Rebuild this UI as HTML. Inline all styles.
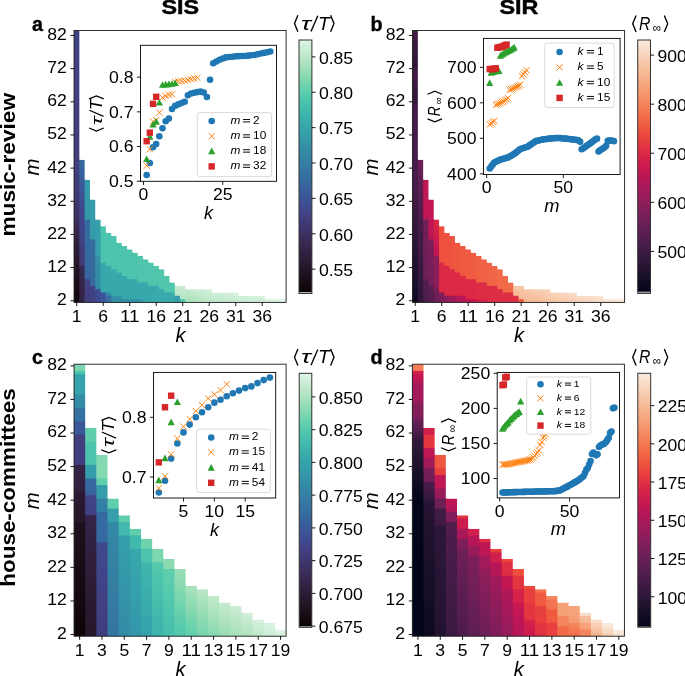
<!DOCTYPE html><html><head><meta charset="utf-8"><style>html,body{margin:0;padding:0;background:#fff;overflow:hidden}svg{display:block;will-change:transform}text{font-family:"Liberation Sans",sans-serif}</style></head><body>
<svg width="685" height="676" viewBox="0 0 685 676">
<rect width="685" height="676" fill="#fff"/>
<text x="180.30" y="14.30" font-size="20.6" text-anchor="middle" font-weight="bold" textLength="37.60" lengthAdjust="spacingAndGlyphs" stroke="#000" stroke-width="0.45">SIS</text>
<text x="518.90" y="14.30" font-size="20.6" text-anchor="middle" font-weight="bold" textLength="39.00" lengthAdjust="spacingAndGlyphs" stroke="#000" stroke-width="0.45">SIR</text>
<text x="14.70" y="164.75" font-size="19.6" text-anchor="middle" font-weight="bold" textLength="143.60" lengthAdjust="spacingAndGlyphs" transform="rotate(-90 14.70 164.75)">music-review</text>
<text x="14.70" y="487.55" font-size="19.6" text-anchor="middle" font-weight="bold" textLength="198.40" lengthAdjust="spacingAndGlyphs" transform="rotate(-90 14.70 487.55)">house-committees</text>
<rect x="74.05" y="30.50" width="6.30" height="17.58" fill="#414285"/>
<rect x="74.05" y="47.08" width="6.30" height="27.53" fill="#414184"/>
<rect x="74.05" y="73.61" width="6.30" height="27.53" fill="#414082"/>
<rect x="74.05" y="100.13" width="6.30" height="30.84" fill="#413f80"/>
<rect x="74.05" y="129.98" width="6.30" height="27.53" fill="#413e7f"/>
<rect x="74.05" y="156.50" width="6.30" height="20.90" fill="#413e7d"/>
<rect x="74.05" y="176.40" width="6.30" height="4.32" fill="#413d7b"/>
<rect x="74.05" y="179.71" width="6.30" height="7.63" fill="#403c79"/>
<rect x="74.05" y="186.35" width="6.30" height="4.32" fill="#403b78"/>
<rect x="74.05" y="189.66" width="6.30" height="7.63" fill="#403a76"/>
<rect x="74.05" y="196.29" width="6.30" height="4.32" fill="#403974"/>
<rect x="74.05" y="199.61" width="6.30" height="4.32" fill="#3f366f"/>
<rect x="74.05" y="202.92" width="6.30" height="4.32" fill="#3f366d"/>
<rect x="74.05" y="206.24" width="6.30" height="4.32" fill="#3e3469"/>
<rect x="74.05" y="209.56" width="6.30" height="4.32" fill="#3e3367"/>
<rect x="74.05" y="212.87" width="6.30" height="4.32" fill="#3d3164"/>
<rect x="74.05" y="216.19" width="6.30" height="4.32" fill="#3c3162"/>
<rect x="74.05" y="219.50" width="6.30" height="4.32" fill="#3a2c59"/>
<rect x="74.05" y="222.82" width="6.30" height="4.32" fill="#392b56"/>
<rect x="74.05" y="226.14" width="6.30" height="4.32" fill="#372851"/>
<rect x="74.05" y="229.45" width="6.30" height="4.32" fill="#36274d"/>
<rect x="74.05" y="232.77" width="6.30" height="4.32" fill="#35254a"/>
<rect x="74.05" y="236.08" width="6.30" height="4.32" fill="#342447"/>
<rect x="74.05" y="239.40" width="6.30" height="4.32" fill="#30203e"/>
<rect x="74.05" y="242.71" width="6.30" height="4.32" fill="#2e1e3b"/>
<rect x="74.05" y="246.03" width="6.30" height="4.32" fill="#2d1d38"/>
<rect x="74.05" y="249.35" width="6.30" height="4.32" fill="#2c1c36"/>
<rect x="74.05" y="252.66" width="6.30" height="4.32" fill="#2a1b33"/>
<rect x="74.05" y="255.98" width="6.30" height="4.32" fill="#28192e"/>
<rect x="74.05" y="259.29" width="6.30" height="4.32" fill="#26172b"/>
<rect x="74.05" y="262.61" width="6.30" height="4.32" fill="#251729"/>
<rect x="74.05" y="265.93" width="6.30" height="4.32" fill="#231526"/>
<rect x="74.05" y="269.24" width="6.30" height="4.32" fill="#211423"/>
<rect x="74.05" y="272.56" width="6.30" height="4.32" fill="#201322"/>
<rect x="74.05" y="275.87" width="6.30" height="4.32" fill="#1e111f"/>
<rect x="74.05" y="279.19" width="6.30" height="4.32" fill="#1b0f1a"/>
<rect x="74.05" y="282.50" width="6.30" height="4.32" fill="#1a0e19"/>
<rect x="74.05" y="285.82" width="6.30" height="4.32" fill="#180d16"/>
<rect x="74.05" y="289.14" width="6.30" height="4.32" fill="#160b13"/>
<rect x="74.05" y="292.45" width="6.30" height="4.32" fill="#140910"/>
<rect x="74.05" y="295.77" width="6.30" height="4.32" fill="#13090f"/>
<rect x="74.05" y="299.08" width="6.30" height="3.32" fill="#11070c"/>
<rect x="79.35" y="159.82" width="6.30" height="4.32" fill="#366ca0"/>
<rect x="79.35" y="163.13" width="6.30" height="4.32" fill="#366a9f"/>
<rect x="79.35" y="166.45" width="6.30" height="4.32" fill="#37669e"/>
<rect x="79.35" y="169.77" width="6.30" height="4.32" fill="#37649e"/>
<rect x="79.35" y="173.08" width="6.30" height="4.32" fill="#38629d"/>
<rect x="79.35" y="176.40" width="6.30" height="4.32" fill="#385f9c"/>
<rect x="79.35" y="179.71" width="6.30" height="4.32" fill="#395d9c"/>
<rect x="79.35" y="183.03" width="6.30" height="4.32" fill="#3a5b9b"/>
<rect x="79.35" y="186.35" width="6.30" height="4.32" fill="#3b5799"/>
<rect x="79.35" y="189.66" width="6.30" height="4.32" fill="#3c5598"/>
<rect x="79.35" y="192.98" width="6.30" height="4.32" fill="#3d5296"/>
<rect x="79.35" y="196.29" width="6.30" height="4.32" fill="#3e5095"/>
<rect x="79.35" y="199.61" width="6.30" height="4.32" fill="#3e4d93"/>
<rect x="79.35" y="202.92" width="6.30" height="4.32" fill="#3f4b90"/>
<rect x="79.35" y="206.24" width="6.30" height="7.63" fill="#40488d"/>
<rect x="79.35" y="212.87" width="6.30" height="7.63" fill="#40478b"/>
<rect x="79.35" y="219.50" width="6.30" height="7.63" fill="#40468a"/>
<rect x="79.35" y="226.14" width="6.30" height="7.63" fill="#414488"/>
<rect x="79.35" y="232.77" width="6.30" height="7.63" fill="#414387"/>
<rect x="79.35" y="239.40" width="6.30" height="4.32" fill="#414285"/>
<rect x="79.35" y="242.71" width="6.30" height="4.32" fill="#413e7d"/>
<rect x="79.35" y="246.03" width="6.30" height="4.32" fill="#413d7b"/>
<rect x="79.35" y="249.35" width="6.30" height="4.32" fill="#403c79"/>
<rect x="79.35" y="252.66" width="6.30" height="7.63" fill="#403b78"/>
<rect x="79.35" y="259.29" width="6.30" height="4.32" fill="#403a76"/>
<rect x="79.35" y="262.61" width="6.30" height="4.32" fill="#403974"/>
<rect x="79.35" y="265.93" width="6.30" height="7.63" fill="#37284f"/>
<rect x="79.35" y="272.56" width="6.30" height="4.32" fill="#36274d"/>
<rect x="79.35" y="275.87" width="6.30" height="4.32" fill="#35264c"/>
<rect x="79.35" y="279.19" width="6.30" height="7.63" fill="#35254a"/>
<rect x="79.35" y="285.82" width="6.30" height="4.32" fill="#342548"/>
<rect x="79.35" y="289.14" width="6.30" height="4.32" fill="#342447"/>
<rect x="79.35" y="292.45" width="6.30" height="7.63" fill="#332345"/>
<rect x="79.35" y="299.08" width="6.30" height="3.32" fill="#322243"/>
<rect x="84.65" y="179.71" width="6.30" height="40.79" fill="#349aaa"/>
<rect x="84.65" y="219.50" width="6.30" height="4.32" fill="#366ca0"/>
<rect x="84.65" y="222.82" width="6.30" height="14.26" fill="#366b9f"/>
<rect x="84.65" y="236.08" width="6.30" height="10.95" fill="#366a9f"/>
<rect x="84.65" y="246.03" width="6.30" height="10.95" fill="#36699f"/>
<rect x="84.65" y="255.98" width="6.30" height="14.26" fill="#37689f"/>
<rect x="84.65" y="269.24" width="6.30" height="10.95" fill="#37669e"/>
<rect x="84.65" y="279.19" width="6.30" height="4.32" fill="#414285"/>
<rect x="84.65" y="282.50" width="6.30" height="4.32" fill="#414184"/>
<rect x="84.65" y="285.82" width="6.30" height="4.32" fill="#414082"/>
<rect x="84.65" y="289.14" width="6.30" height="7.63" fill="#413f80"/>
<rect x="84.65" y="295.77" width="6.30" height="4.32" fill="#413e7f"/>
<rect x="84.65" y="299.08" width="6.30" height="3.32" fill="#413e7d"/>
<rect x="89.95" y="199.61" width="6.30" height="40.79" fill="#359caa"/>
<rect x="89.95" y="239.40" width="6.30" height="7.63" fill="#366ca0"/>
<rect x="89.95" y="246.03" width="6.30" height="17.58" fill="#366b9f"/>
<rect x="89.95" y="262.61" width="6.30" height="17.58" fill="#366a9f"/>
<rect x="89.95" y="279.19" width="6.30" height="7.63" fill="#36699f"/>
<rect x="89.95" y="285.82" width="6.30" height="4.32" fill="#414285"/>
<rect x="89.95" y="289.14" width="6.30" height="7.63" fill="#414184"/>
<rect x="89.95" y="295.77" width="6.30" height="4.32" fill="#414082"/>
<rect x="89.95" y="299.08" width="6.30" height="3.32" fill="#413f80"/>
<rect x="95.25" y="219.50" width="6.30" height="37.47" fill="#35a0ab"/>
<rect x="95.25" y="255.98" width="6.30" height="10.95" fill="#348ea7"/>
<rect x="95.25" y="265.93" width="6.30" height="14.26" fill="#348da7"/>
<rect x="95.25" y="279.19" width="6.30" height="10.95" fill="#348ca7"/>
<rect x="95.25" y="289.14" width="6.30" height="13.26" fill="#3f4b90"/>
<rect x="100.56" y="226.14" width="6.30" height="37.47" fill="#4dc4ad"/>
<rect x="100.56" y="262.61" width="6.30" height="30.84" fill="#37a8ac"/>
<rect x="100.56" y="292.45" width="6.30" height="9.95" fill="#3b5799"/>
<rect x="105.86" y="232.77" width="6.30" height="34.16" fill="#4dc4ad"/>
<rect x="105.86" y="265.93" width="6.30" height="27.53" fill="#37a8ac"/>
<rect x="105.86" y="292.45" width="6.30" height="4.32" fill="#3488a6"/>
<rect x="105.86" y="295.77" width="6.30" height="6.63" fill="#366fa0"/>
<rect x="111.16" y="236.08" width="6.30" height="34.16" fill="#4dc4ad"/>
<rect x="111.16" y="269.24" width="6.30" height="27.53" fill="#37a8ac"/>
<rect x="111.16" y="295.77" width="6.30" height="6.63" fill="#348ca7"/>
<rect x="116.46" y="242.71" width="6.30" height="30.84" fill="#4dc4ad"/>
<rect x="116.46" y="272.56" width="6.30" height="24.21" fill="#37a8ac"/>
<rect x="116.46" y="295.77" width="6.30" height="6.63" fill="#348ea7"/>
<rect x="121.76" y="246.03" width="6.30" height="30.84" fill="#4dc4ad"/>
<rect x="121.76" y="275.87" width="6.30" height="24.21" fill="#37a8ac"/>
<rect x="121.76" y="299.08" width="6.30" height="3.32" fill="#348ba6"/>
<rect x="127.06" y="249.35" width="6.30" height="30.84" fill="#4dc4ad"/>
<rect x="127.06" y="279.19" width="6.30" height="20.90" fill="#37a8ac"/>
<rect x="127.06" y="299.08" width="6.30" height="3.32" fill="#348da7"/>
<rect x="132.36" y="252.66" width="6.30" height="27.53" fill="#4dc4ad"/>
<rect x="132.36" y="279.19" width="6.30" height="20.90" fill="#37a8ac"/>
<rect x="132.36" y="299.08" width="6.30" height="3.32" fill="#3491a8"/>
<rect x="137.67" y="255.98" width="6.30" height="27.53" fill="#4fc5ad"/>
<rect x="137.67" y="282.50" width="6.30" height="17.58" fill="#37a8ac"/>
<rect x="137.67" y="299.08" width="6.30" height="3.32" fill="#3493a8"/>
<rect x="142.97" y="259.29" width="6.30" height="24.21" fill="#4fc5ad"/>
<rect x="142.97" y="282.50" width="6.30" height="19.90" fill="#37a8ac"/>
<rect x="148.27" y="262.61" width="6.30" height="24.21" fill="#4fc5ad"/>
<rect x="148.27" y="285.82" width="6.30" height="16.58" fill="#38aaac"/>
<rect x="153.57" y="265.93" width="6.30" height="20.90" fill="#50c6ad"/>
<rect x="153.57" y="285.82" width="6.30" height="16.58" fill="#38aaac"/>
<rect x="158.87" y="269.24" width="6.30" height="20.90" fill="#50c6ad"/>
<rect x="158.87" y="289.14" width="6.30" height="13.26" fill="#38aaac"/>
<rect x="164.17" y="275.87" width="6.30" height="17.58" fill="#50c6ad"/>
<rect x="164.17" y="292.45" width="6.30" height="9.95" fill="#38aaac"/>
<rect x="169.47" y="282.50" width="6.30" height="10.95" fill="#50c6ad"/>
<rect x="169.47" y="292.45" width="6.30" height="9.95" fill="#38aaac"/>
<rect x="174.77" y="285.82" width="6.30" height="4.32" fill="#c4eacf"/>
<rect x="174.77" y="289.14" width="6.30" height="4.32" fill="#c0e9cc"/>
<rect x="174.77" y="292.45" width="6.30" height="4.32" fill="#b9e6c7"/>
<rect x="174.77" y="295.77" width="6.30" height="6.63" fill="#35a0ab"/>
<rect x="180.07" y="285.82" width="6.30" height="4.32" fill="#c4eacf"/>
<rect x="180.07" y="289.14" width="6.30" height="4.32" fill="#c2e9cd"/>
<rect x="180.07" y="292.45" width="6.30" height="4.32" fill="#bee8ca"/>
<rect x="180.07" y="295.77" width="6.30" height="4.32" fill="#b9e6c7"/>
<rect x="180.07" y="299.08" width="6.30" height="3.32" fill="#50c6ad"/>
<rect x="185.38" y="289.14" width="6.30" height="4.32" fill="#c0e9cc"/>
<rect x="185.38" y="292.45" width="6.30" height="4.32" fill="#b9e6c7"/>
<rect x="185.38" y="295.77" width="6.30" height="4.32" fill="#b2e4c2"/>
<rect x="185.38" y="299.08" width="6.30" height="3.32" fill="#abe2be"/>
<rect x="190.68" y="289.14" width="6.30" height="4.32" fill="#c4eacf"/>
<rect x="190.68" y="292.45" width="6.30" height="4.32" fill="#bee8ca"/>
<rect x="190.68" y="295.77" width="6.30" height="4.32" fill="#b7e6c5"/>
<rect x="190.68" y="299.08" width="6.30" height="3.32" fill="#b0e4c1"/>
<rect x="195.98" y="289.14" width="6.30" height="4.32" fill="#caedd4"/>
<rect x="195.98" y="292.45" width="6.30" height="4.32" fill="#c2e9cd"/>
<rect x="195.98" y="295.77" width="6.30" height="4.32" fill="#bbe7c8"/>
<rect x="195.98" y="299.08" width="6.30" height="3.32" fill="#b5e5c4"/>
<rect x="201.28" y="289.14" width="6.30" height="4.32" fill="#ceeed7"/>
<rect x="201.28" y="292.45" width="6.30" height="4.32" fill="#c8ecd2"/>
<rect x="201.28" y="295.77" width="6.30" height="4.32" fill="#c2e9cd"/>
<rect x="201.28" y="299.08" width="6.30" height="3.32" fill="#bbe7c8"/>
<rect x="206.58" y="289.14" width="6.30" height="4.32" fill="#d0efd9"/>
<rect x="206.58" y="292.45" width="6.30" height="4.32" fill="#caedd4"/>
<rect x="206.58" y="295.77" width="6.30" height="4.32" fill="#c4eacf"/>
<rect x="206.58" y="299.08" width="6.30" height="3.32" fill="#bee8ca"/>
<rect x="211.88" y="292.45" width="6.30" height="4.32" fill="#ccedd6"/>
<rect x="211.88" y="295.77" width="6.30" height="4.32" fill="#c6ebd1"/>
<rect x="211.88" y="299.08" width="6.30" height="3.32" fill="#c0e9cc"/>
<rect x="217.18" y="292.45" width="6.30" height="4.32" fill="#ceeed7"/>
<rect x="217.18" y="295.77" width="6.30" height="4.32" fill="#c8ecd2"/>
<rect x="217.18" y="299.08" width="6.30" height="3.32" fill="#c2e9cd"/>
<rect x="222.49" y="292.45" width="6.30" height="4.32" fill="#d0efd9"/>
<rect x="222.49" y="295.77" width="6.30" height="4.32" fill="#caedd4"/>
<rect x="222.49" y="299.08" width="6.30" height="3.32" fill="#c4eacf"/>
<rect x="227.79" y="292.45" width="6.30" height="4.32" fill="#d2f0db"/>
<rect x="227.79" y="295.77" width="6.30" height="4.32" fill="#ccedd6"/>
<rect x="227.79" y="299.08" width="6.30" height="3.32" fill="#c6ebd1"/>
<rect x="233.09" y="292.45" width="6.30" height="4.32" fill="#d4f1dc"/>
<rect x="233.09" y="295.77" width="6.30" height="4.32" fill="#ceeed7"/>
<rect x="233.09" y="299.08" width="6.30" height="3.32" fill="#c8ecd2"/>
<rect x="238.39" y="295.77" width="6.30" height="4.32" fill="#d0efd9"/>
<rect x="238.39" y="299.08" width="6.30" height="3.32" fill="#caedd4"/>
<rect x="243.69" y="295.77" width="6.30" height="4.32" fill="#d2f0db"/>
<rect x="243.69" y="299.08" width="6.30" height="3.32" fill="#ccedd6"/>
<rect x="248.99" y="295.77" width="6.30" height="4.32" fill="#d4f1dc"/>
<rect x="248.99" y="299.08" width="6.30" height="3.32" fill="#ceeed7"/>
<rect x="254.29" y="295.77" width="6.30" height="4.32" fill="#d6f1de"/>
<rect x="254.29" y="299.08" width="6.30" height="3.32" fill="#ceeed7"/>
<rect x="259.59" y="295.77" width="6.30" height="4.32" fill="#d6f1de"/>
<rect x="259.59" y="299.08" width="6.30" height="3.32" fill="#d0efd9"/>
<rect x="264.90" y="299.08" width="6.30" height="3.32" fill="#d4f1dc"/>
<rect x="270.20" y="299.08" width="6.30" height="3.32" fill="#d8f2e0"/>
<rect x="275.50" y="299.08" width="6.30" height="3.32" fill="#daf3e1"/>
<rect x="280.80" y="299.08" width="6.30" height="3.32" fill="#def5e5"/>
<polygon points="74.05,28.50 289.10,28.50 289.10,302.40 286.10,302.40 286.10,299.08 280.80,299.08 280.80,299.08 275.50,299.08 275.50,299.08 270.20,299.08 270.20,299.08 264.90,299.08 264.89,295.77 259.59,295.77 259.59,295.77 254.29,295.77 254.29,295.77 248.99,295.77 248.99,295.77 243.69,295.77 243.69,295.77 238.39,295.77 238.39,292.45 233.09,292.45 233.09,292.45 227.79,292.45 227.79,292.45 222.49,292.45 222.49,292.45 217.18,292.45 217.18,292.45 211.88,292.45 211.88,289.14 206.58,289.14 206.58,289.14 201.28,289.14 201.28,289.14 195.98,289.14 195.98,289.14 190.68,289.14 190.68,289.14 185.38,289.14 185.38,285.82 180.07,285.82 180.08,285.82 174.77,285.82 174.77,282.50 169.47,282.50 169.47,275.87 164.17,275.87 164.17,269.24 158.87,269.24 158.87,265.93 153.57,265.93 153.57,262.61 148.27,262.61 148.27,259.29 142.97,259.29 142.97,255.98 137.67,255.98 137.67,252.66 132.36,252.66 132.36,249.35 127.06,249.35 127.06,246.03 121.76,246.03 121.76,242.71 116.46,242.71 116.46,236.08 111.16,236.08 111.16,232.77 105.86,232.77 105.86,226.14 100.56,226.14 100.56,219.50 95.25,219.50 95.25,199.61 89.95,199.61 89.95,179.71 84.65,179.71 84.65,159.82 79.35,159.82 79.35,30.50 74.05,30.50" fill="#fff"/>
<rect x="74.05" y="30.50" width="212.05" height="271.90" fill="none" stroke="#1a1a1a" stroke-width="0.9"/>
<line x1="70.45" y1="300.74" x2="74.05" y2="300.74" stroke="#000" stroke-width="0.9"/>
<text x="66.85" y="305.19" font-size="15.8" text-anchor="end" textLength="9.79" lengthAdjust="spacingAndGlyphs">2</text>
<line x1="70.45" y1="267.58" x2="74.05" y2="267.58" stroke="#000" stroke-width="0.9"/>
<text x="66.85" y="272.03" font-size="15.8" text-anchor="end" textLength="19.59" lengthAdjust="spacingAndGlyphs">12</text>
<line x1="70.45" y1="234.42" x2="74.05" y2="234.42" stroke="#000" stroke-width="0.9"/>
<text x="66.85" y="238.87" font-size="15.8" text-anchor="end" textLength="19.59" lengthAdjust="spacingAndGlyphs">22</text>
<line x1="70.45" y1="201.27" x2="74.05" y2="201.27" stroke="#000" stroke-width="0.9"/>
<text x="66.85" y="205.72" font-size="15.8" text-anchor="end" textLength="19.59" lengthAdjust="spacingAndGlyphs">32</text>
<line x1="70.45" y1="168.11" x2="74.05" y2="168.11" stroke="#000" stroke-width="0.9"/>
<text x="66.85" y="172.56" font-size="15.8" text-anchor="end" textLength="19.59" lengthAdjust="spacingAndGlyphs">42</text>
<line x1="70.45" y1="134.95" x2="74.05" y2="134.95" stroke="#000" stroke-width="0.9"/>
<text x="66.85" y="139.40" font-size="15.8" text-anchor="end" textLength="19.59" lengthAdjust="spacingAndGlyphs">52</text>
<line x1="70.45" y1="101.79" x2="74.05" y2="101.79" stroke="#000" stroke-width="0.9"/>
<text x="66.85" y="106.24" font-size="15.8" text-anchor="end" textLength="19.59" lengthAdjust="spacingAndGlyphs">62</text>
<line x1="70.45" y1="68.63" x2="74.05" y2="68.63" stroke="#000" stroke-width="0.9"/>
<text x="66.85" y="73.08" font-size="15.8" text-anchor="end" textLength="19.59" lengthAdjust="spacingAndGlyphs">72</text>
<line x1="70.45" y1="35.47" x2="74.05" y2="35.47" stroke="#000" stroke-width="0.9"/>
<text x="66.85" y="39.92" font-size="15.8" text-anchor="end" textLength="19.59" lengthAdjust="spacingAndGlyphs">82</text>
<line x1="76.70" y1="302.40" x2="76.70" y2="306.00" stroke="#000" stroke-width="0.9"/>
<text x="76.70" y="322.25" font-size="15.8" text-anchor="middle" textLength="9.79" lengthAdjust="spacingAndGlyphs">1</text>
<line x1="103.21" y1="302.40" x2="103.21" y2="306.00" stroke="#000" stroke-width="0.9"/>
<text x="103.21" y="322.25" font-size="15.8" text-anchor="middle" textLength="9.79" lengthAdjust="spacingAndGlyphs">6</text>
<line x1="129.71" y1="302.40" x2="129.71" y2="306.00" stroke="#000" stroke-width="0.9"/>
<text x="129.71" y="322.25" font-size="15.8" text-anchor="middle" textLength="19.59" lengthAdjust="spacingAndGlyphs">11</text>
<line x1="156.22" y1="302.40" x2="156.22" y2="306.00" stroke="#000" stroke-width="0.9"/>
<text x="156.22" y="322.25" font-size="15.8" text-anchor="middle" textLength="19.59" lengthAdjust="spacingAndGlyphs">16</text>
<line x1="182.73" y1="302.40" x2="182.73" y2="306.00" stroke="#000" stroke-width="0.9"/>
<text x="182.73" y="322.25" font-size="15.8" text-anchor="middle" textLength="19.59" lengthAdjust="spacingAndGlyphs">21</text>
<line x1="209.23" y1="302.40" x2="209.23" y2="306.00" stroke="#000" stroke-width="0.9"/>
<text x="209.23" y="322.25" font-size="15.8" text-anchor="middle" textLength="19.59" lengthAdjust="spacingAndGlyphs">26</text>
<line x1="235.74" y1="302.40" x2="235.74" y2="306.00" stroke="#000" stroke-width="0.9"/>
<text x="235.74" y="322.25" font-size="15.8" text-anchor="middle" textLength="19.59" lengthAdjust="spacingAndGlyphs">31</text>
<line x1="262.24" y1="302.40" x2="262.24" y2="306.00" stroke="#000" stroke-width="0.9"/>
<text x="262.24" y="322.25" font-size="15.8" text-anchor="middle" textLength="19.59" lengthAdjust="spacingAndGlyphs">36</text>
<text x="180.38" y="342.20" font-size="20.0" text-anchor="middle" font-style="italic">k</text>
<text x="39.35" y="167.15" font-size="20.2" text-anchor="middle" font-style="italic" textLength="16.90" lengthAdjust="spacingAndGlyphs" transform="rotate(-90 39.35 167.15)">m</text>
<text x="32.00" y="30.70" font-size="19.8" font-weight="bold" stroke="#000" stroke-width="0.35">a</text>
<defs><linearGradient id="ga" x1="0" y1="0" x2="0" y2="1"><stop offset="0.0000" stop-color="#def5e5"/><stop offset="0.0312" stop-color="#ceeed7"/><stop offset="0.0625" stop-color="#bee8ca"/><stop offset="0.0938" stop-color="#abe2be"/><stop offset="0.1250" stop-color="#96ddb5"/><stop offset="0.1562" stop-color="#7fd7af"/><stop offset="0.1875" stop-color="#68d1ad"/><stop offset="0.2188" stop-color="#55caad"/><stop offset="0.2500" stop-color="#49c1ad"/><stop offset="0.2812" stop-color="#41b8ad"/><stop offset="0.3125" stop-color="#3bafad"/><stop offset="0.3438" stop-color="#37a6ac"/><stop offset="0.3750" stop-color="#359eaa"/><stop offset="0.4062" stop-color="#3495a9"/><stop offset="0.4375" stop-color="#348ca7"/><stop offset="0.4688" stop-color="#3483a5"/><stop offset="0.5000" stop-color="#357ba3"/><stop offset="0.5312" stop-color="#3572a1"/><stop offset="0.5625" stop-color="#36699f"/><stop offset="0.5938" stop-color="#385f9c"/><stop offset="0.6250" stop-color="#3b5698"/><stop offset="0.6562" stop-color="#3f4c92"/><stop offset="0.6875" stop-color="#414387"/><stop offset="0.7188" stop-color="#403c79"/><stop offset="0.7500" stop-color="#3e356b"/><stop offset="0.7812" stop-color="#3b2e5d"/><stop offset="0.8125" stop-color="#37284f"/><stop offset="0.8438" stop-color="#312142"/><stop offset="0.8750" stop-color="#2b1c35"/><stop offset="0.9062" stop-color="#241628"/><stop offset="0.9375" stop-color="#1c101c"/><stop offset="0.9688" stop-color="#140910"/><stop offset="1.0000" stop-color="#0b0405"/></linearGradient></defs>
<rect x="299.00" y="291.50" width="12.90" height="2.00" fill="#b8b8b8"/>
<rect x="299.00" y="40.00" width="12.90" height="252.00" fill="url(#ga)"/>
<rect x="299.00" y="40.00" width="12.90" height="253.50" fill="none" stroke="#333" stroke-width="1.0"/>
<line x1="311.90" y1="269.12" x2="315.50" y2="269.12" stroke="#000" stroke-width="0.9"/>
<text x="318.90" y="275.92" font-size="15.8" textLength="34.28" lengthAdjust="spacingAndGlyphs">0.55</text>
<line x1="311.90" y1="233.75" x2="315.50" y2="233.75" stroke="#000" stroke-width="0.9"/>
<text x="318.90" y="240.55" font-size="15.8" textLength="34.28" lengthAdjust="spacingAndGlyphs">0.60</text>
<line x1="311.90" y1="198.38" x2="315.50" y2="198.38" stroke="#000" stroke-width="0.9"/>
<text x="318.90" y="205.18" font-size="15.8" textLength="34.28" lengthAdjust="spacingAndGlyphs">0.65</text>
<line x1="311.90" y1="163.01" x2="315.50" y2="163.01" stroke="#000" stroke-width="0.9"/>
<text x="318.90" y="169.81" font-size="15.8" textLength="34.28" lengthAdjust="spacingAndGlyphs">0.70</text>
<line x1="311.90" y1="127.64" x2="315.50" y2="127.64" stroke="#000" stroke-width="0.9"/>
<text x="318.90" y="134.44" font-size="15.8" textLength="34.28" lengthAdjust="spacingAndGlyphs">0.75</text>
<line x1="311.90" y1="92.27" x2="315.50" y2="92.27" stroke="#000" stroke-width="0.9"/>
<text x="318.90" y="99.07" font-size="15.8" textLength="34.28" lengthAdjust="spacingAndGlyphs">0.80</text>
<line x1="311.90" y1="56.90" x2="315.50" y2="56.90" stroke="#000" stroke-width="0.9"/>
<text x="318.90" y="63.70" font-size="15.8" textLength="34.28" lengthAdjust="spacingAndGlyphs">0.85</text>
<g transform="translate(294.20 29.60)">
<path d="M3.70,-14.30 L0.30,-6.05 L3.70,2.20" fill="none" stroke="#000" stroke-width="1.35" stroke-linejoin="miter"/>
<text x="6.70" y="0.00" font-size="17.5" font-style="italic" textLength="10.00" lengthAdjust="spacingAndGlyphs">τ</text>
<path d="M23.60,-13.90 L16.80,1.90" fill="none" stroke="#000" stroke-width="1.35"/>
<text x="23.90" y="0.00" font-size="19.0" font-style="italic" textLength="11.80" lengthAdjust="spacingAndGlyphs">T</text>
<path d="M36.40,-14.30 L39.80,-6.05 L36.40,2.20" fill="none" stroke="#000" stroke-width="1.35" stroke-linejoin="miter"/>
</g>
<rect x="140.50" y="45.30" width="136.00" height="136.00" fill="#fff" stroke="#000" stroke-width="0.9"/>
<line x1="143.50" y1="181.30" x2="143.50" y2="184.90" stroke="#000" stroke-width="0.9"/>
<text x="143.50" y="199.90" font-size="15.8" text-anchor="middle" textLength="9.79" lengthAdjust="spacingAndGlyphs">0</text>
<line x1="222.75" y1="181.30" x2="222.75" y2="184.90" stroke="#000" stroke-width="0.9"/>
<text x="222.75" y="199.90" font-size="15.8" text-anchor="middle" textLength="19.59" lengthAdjust="spacingAndGlyphs">25</text>
<line x1="136.90" y1="181.23" x2="140.50" y2="181.23" stroke="#000" stroke-width="0.9"/>
<text x="133.50" y="187.13" font-size="15.8" text-anchor="end" textLength="24.49" lengthAdjust="spacingAndGlyphs">0.5</text>
<line x1="136.90" y1="146.54" x2="140.50" y2="146.54" stroke="#000" stroke-width="0.9"/>
<text x="133.50" y="152.44" font-size="15.8" text-anchor="end" textLength="24.49" lengthAdjust="spacingAndGlyphs">0.6</text>
<line x1="136.90" y1="111.85" x2="140.50" y2="111.85" stroke="#000" stroke-width="0.9"/>
<text x="133.50" y="117.75" font-size="15.8" text-anchor="end" textLength="24.49" lengthAdjust="spacingAndGlyphs">0.7</text>
<line x1="136.90" y1="77.16" x2="140.50" y2="77.16" stroke="#000" stroke-width="0.9"/>
<text x="133.50" y="83.06" font-size="15.8" text-anchor="end" textLength="24.49" lengthAdjust="spacingAndGlyphs">0.8</text>
<text x="208.50" y="218.80" font-size="18.0" text-anchor="middle" font-style="italic">k</text>
<g transform="translate(101.80 113.45) rotate(-90) scale(0.89) translate(-20.05 0)">
<path d="M3.70,-14.30 L0.30,-6.05 L3.70,2.20" fill="none" stroke="#000" stroke-width="1.35" stroke-linejoin="miter"/>
<text x="6.70" y="0.00" font-size="17.5" font-style="italic" textLength="10.00" lengthAdjust="spacingAndGlyphs">τ</text>
<path d="M23.60,-13.90 L16.80,1.90" fill="none" stroke="#000" stroke-width="1.35"/>
<text x="23.90" y="0.00" font-size="19.0" font-style="italic" textLength="11.80" lengthAdjust="spacingAndGlyphs">T</text>
<path d="M36.40,-14.30 L39.80,-6.05 L36.40,2.20" fill="none" stroke="#000" stroke-width="1.35" stroke-linejoin="miter"/>
</g>
<circle cx="146.67" cy="174.99" r="3.3" fill="#1f77b4"/>
<circle cx="149.84" cy="162.98" r="3.3" fill="#1f77b4"/>
<circle cx="153.01" cy="147.23" r="3.3" fill="#1f77b4"/>
<circle cx="156.18" cy="144.01" r="3.3" fill="#1f77b4"/>
<circle cx="159.35" cy="136.31" r="3.3" fill="#1f77b4"/>
<circle cx="162.52" cy="128.19" r="3.3" fill="#1f77b4"/>
<circle cx="165.69" cy="121.22" r="3.3" fill="#1f77b4"/>
<circle cx="168.86" cy="118.44" r="3.3" fill="#1f77b4"/>
<circle cx="172.03" cy="109.01" r="3.3" fill="#1f77b4"/>
<circle cx="175.20" cy="105.81" r="3.3" fill="#1f77b4"/>
<circle cx="178.37" cy="104.36" r="3.3" fill="#1f77b4"/>
<circle cx="181.54" cy="103.11" r="3.3" fill="#1f77b4"/>
<circle cx="184.71" cy="101.72" r="3.3" fill="#1f77b4"/>
<circle cx="187.88" cy="95.20" r="3.3" fill="#1f77b4"/>
<circle cx="191.05" cy="93.46" r="3.3" fill="#1f77b4"/>
<circle cx="194.22" cy="92.81" r="3.3" fill="#1f77b4"/>
<circle cx="197.39" cy="92.08" r="3.3" fill="#1f77b4"/>
<circle cx="200.56" cy="91.59" r="3.3" fill="#1f77b4"/>
<circle cx="203.73" cy="92.49" r="3.3" fill="#1f77b4"/>
<circle cx="206.90" cy="96.93" r="3.3" fill="#1f77b4"/>
<circle cx="210.07" cy="79.80" r="3.3" fill="#1f77b4"/>
<circle cx="213.24" cy="63.28" r="3.3" fill="#1f77b4"/>
<circle cx="216.41" cy="61.55" r="3.3" fill="#1f77b4"/>
<circle cx="219.58" cy="59.82" r="3.3" fill="#1f77b4"/>
<circle cx="222.75" cy="58.43" r="3.3" fill="#1f77b4"/>
<circle cx="225.92" cy="57.39" r="3.3" fill="#1f77b4"/>
<circle cx="229.09" cy="57.04" r="3.3" fill="#1f77b4"/>
<circle cx="232.26" cy="56.69" r="3.3" fill="#1f77b4"/>
<circle cx="235.43" cy="56.35" r="3.3" fill="#1f77b4"/>
<circle cx="238.60" cy="56.17" r="3.3" fill="#1f77b4"/>
<circle cx="241.77" cy="56.00" r="3.3" fill="#1f77b4"/>
<circle cx="244.94" cy="56.00" r="3.3" fill="#1f77b4"/>
<circle cx="248.11" cy="55.65" r="3.3" fill="#1f77b4"/>
<circle cx="251.28" cy="55.31" r="3.3" fill="#1f77b4"/>
<circle cx="254.45" cy="54.96" r="3.3" fill="#1f77b4"/>
<circle cx="257.62" cy="54.27" r="3.3" fill="#1f77b4"/>
<circle cx="260.79" cy="53.57" r="3.3" fill="#1f77b4"/>
<circle cx="263.96" cy="52.88" r="3.3" fill="#1f77b4"/>
<circle cx="267.13" cy="52.18" r="3.3" fill="#1f77b4"/>
<circle cx="270.30" cy="51.49" r="3.3" fill="#1f77b4"/>
<path d="M143.62,162.57L149.72,168.67M143.62,168.67L149.72,162.57" stroke="#ff7f0e" stroke-width="1.0" fill="none"/>
<path d="M146.79,146.27L152.89,152.37M146.79,152.37L152.89,146.27" stroke="#ff7f0e" stroke-width="1.0" fill="none"/>
<path d="M149.96,118.51L156.06,124.61M149.96,124.61L156.06,118.51" stroke="#ff7f0e" stroke-width="1.0" fill="none"/>
<path d="M153.13,117.13L159.23,123.23M153.13,123.23L159.23,117.13" stroke="#ff7f0e" stroke-width="1.0" fill="none"/>
<path d="M156.30,109.49L162.40,115.59M156.30,115.59L162.40,109.49" stroke="#ff7f0e" stroke-width="1.0" fill="none"/>
<path d="M159.47,94.58L165.57,100.68M159.47,100.68L165.57,94.58" stroke="#ff7f0e" stroke-width="1.0" fill="none"/>
<path d="M162.64,92.84L168.74,98.94M162.64,98.94L168.74,92.84" stroke="#ff7f0e" stroke-width="1.0" fill="none"/>
<path d="M165.81,91.63L171.91,97.73M165.81,97.73L171.91,91.63" stroke="#ff7f0e" stroke-width="1.0" fill="none"/>
<path d="M168.98,91.28L175.08,97.38M168.98,97.38L175.08,91.28" stroke="#ff7f0e" stroke-width="1.0" fill="none"/>
<path d="M172.15,78.97L178.25,85.07M172.15,85.07L178.25,78.97" stroke="#ff7f0e" stroke-width="1.0" fill="none"/>
<path d="M175.32,78.27L181.42,84.37M175.32,84.37L181.42,78.27" stroke="#ff7f0e" stroke-width="1.0" fill="none"/>
<path d="M178.49,77.93L184.59,84.03M178.49,84.03L184.59,77.93" stroke="#ff7f0e" stroke-width="1.0" fill="none"/>
<path d="M181.66,77.58L187.76,83.68M181.66,83.68L187.76,77.58" stroke="#ff7f0e" stroke-width="1.0" fill="none"/>
<path d="M184.83,76.89L190.93,82.99M184.83,82.99L190.93,76.89" stroke="#ff7f0e" stroke-width="1.0" fill="none"/>
<path d="M188.00,76.19L194.10,82.29M188.00,82.29L194.10,76.19" stroke="#ff7f0e" stroke-width="1.0" fill="none"/>
<path d="M191.17,75.50L197.27,81.60M191.17,81.60L197.27,75.50" stroke="#ff7f0e" stroke-width="1.0" fill="none"/>
<path d="M194.34,74.80L200.44,80.90M194.34,80.90L200.44,74.80" stroke="#ff7f0e" stroke-width="1.0" fill="none"/>
<path d="M146.67,155.43L150.27,162.09L143.07,162.09Z" fill="#2ca02c"/>
<path d="M149.84,133.09L153.44,139.75L146.24,139.75Z" fill="#2ca02c"/>
<path d="M153.01,120.91L156.61,127.57L149.41,127.57Z" fill="#2ca02c"/>
<path d="M156.18,118.10L159.78,124.76L152.58,124.76Z" fill="#2ca02c"/>
<path d="M159.35,98.88L162.95,105.54L155.75,105.54Z" fill="#2ca02c"/>
<path d="M162.52,81.19L166.12,87.85L158.92,87.85Z" fill="#2ca02c"/>
<path d="M165.69,80.85L169.29,87.51L162.09,87.51Z" fill="#2ca02c"/>
<path d="M168.86,80.50L172.46,87.16L165.26,87.16Z" fill="#2ca02c"/>
<path d="M172.03,80.15L175.63,86.81L168.43,86.81Z" fill="#2ca02c"/>
<path d="M175.20,79.46L178.80,86.12L171.60,86.12Z" fill="#2ca02c"/>
<rect x="143.47" y="138.00" width="6.40" height="6.40" fill="#d62728"/>
<rect x="146.64" y="129.46" width="6.40" height="6.40" fill="#d62728"/>
<rect x="149.81" y="100.60" width="6.40" height="6.40" fill="#d62728"/>
<rect x="152.98" y="93.60" width="6.40" height="6.40" fill="#d62728"/>
<rect x="197.20" y="112.60" width="74.30" height="64.00" rx="2.2" ry="2.2" fill="#fff" fill-opacity="0.85" stroke="#d6d6d6" stroke-width="0.9"/>
<circle cx="211.70" cy="121.00" r="3.3" fill="#1f77b4"/>
<text x="230.40" y="123.90" font-size="10.9" font-style="italic" textLength="9.90" lengthAdjust="spacingAndGlyphs">m</text>
<rect x="243.00" y="119.05" width="7.10" height="0.95" fill="#000"/>
<rect x="243.00" y="121.45" width="7.10" height="0.95" fill="#000"/>
<text x="253.10" y="123.90" font-size="10.6" textLength="6.60" lengthAdjust="spacingAndGlyphs">2</text>
<path d="M208.65,133.25L214.75,139.35M208.65,139.35L214.75,133.25" stroke="#ff7f0e" stroke-width="1.0" fill="none"/>
<text x="230.40" y="139.20" font-size="10.9" font-style="italic" textLength="9.90" lengthAdjust="spacingAndGlyphs">m</text>
<rect x="243.00" y="134.35" width="7.10" height="0.95" fill="#000"/>
<rect x="243.00" y="136.75" width="7.10" height="0.95" fill="#000"/>
<text x="253.10" y="139.20" font-size="10.6" textLength="13.20" lengthAdjust="spacingAndGlyphs">10</text>
<path d="M211.70,147.60L215.30,154.26L208.10,154.26Z" fill="#2ca02c"/>
<text x="230.40" y="154.10" font-size="10.9" font-style="italic" textLength="9.90" lengthAdjust="spacingAndGlyphs">m</text>
<rect x="243.00" y="149.25" width="7.10" height="0.95" fill="#000"/>
<rect x="243.00" y="151.65" width="7.10" height="0.95" fill="#000"/>
<text x="253.10" y="154.10" font-size="10.6" textLength="13.20" lengthAdjust="spacingAndGlyphs">18</text>
<rect x="208.50" y="163.20" width="6.40" height="6.40" fill="#d62728"/>
<text x="230.40" y="169.30" font-size="10.9" font-style="italic" textLength="9.90" lengthAdjust="spacingAndGlyphs">m</text>
<rect x="243.00" y="164.45" width="7.10" height="0.95" fill="#000"/>
<rect x="243.00" y="166.85" width="7.10" height="0.95" fill="#000"/>
<text x="253.10" y="169.30" font-size="10.6" textLength="13.20" lengthAdjust="spacingAndGlyphs">32</text>
<rect x="412.55" y="30.50" width="6.30" height="7.63" fill="#431c46"/>
<rect x="412.55" y="37.13" width="6.30" height="4.32" fill="#401b44"/>
<rect x="412.55" y="40.45" width="6.30" height="4.32" fill="#3d1a42"/>
<rect x="412.55" y="43.76" width="6.30" height="4.32" fill="#3a1a41"/>
<rect x="412.55" y="47.08" width="6.30" height="4.32" fill="#381a40"/>
<rect x="412.55" y="50.40" width="6.30" height="4.32" fill="#37193f"/>
<rect x="412.55" y="53.71" width="6.30" height="4.32" fill="#35193e"/>
<rect x="412.55" y="57.03" width="6.30" height="4.32" fill="#33183c"/>
<rect x="412.55" y="60.34" width="6.30" height="4.32" fill="#30173a"/>
<rect x="412.55" y="63.66" width="6.30" height="4.32" fill="#2e1739"/>
<rect x="412.55" y="66.97" width="6.30" height="4.32" fill="#3a1a41"/>
<rect x="412.55" y="70.29" width="6.30" height="4.32" fill="#461c48"/>
<rect x="412.55" y="73.61" width="6.30" height="4.32" fill="#451c47"/>
<rect x="412.55" y="76.92" width="6.30" height="4.32" fill="#421b45"/>
<rect x="412.55" y="80.24" width="6.30" height="4.32" fill="#401b44"/>
<rect x="412.55" y="83.55" width="6.30" height="4.32" fill="#3d1a42"/>
<rect x="412.55" y="86.87" width="6.30" height="4.32" fill="#3a1a41"/>
<rect x="412.55" y="90.19" width="6.30" height="4.32" fill="#35193e"/>
<rect x="412.55" y="93.50" width="6.30" height="7.63" fill="#34193d"/>
<rect x="412.55" y="100.13" width="6.30" height="4.32" fill="#33183c"/>
<rect x="412.55" y="103.45" width="6.30" height="4.32" fill="#3c1a42"/>
<rect x="412.55" y="106.76" width="6.30" height="10.95" fill="#451c47"/>
<rect x="412.55" y="116.71" width="6.30" height="14.26" fill="#461c48"/>
<rect x="412.55" y="129.98" width="6.30" height="17.58" fill="#481c48"/>
<rect x="412.55" y="146.55" width="6.30" height="17.58" fill="#491d49"/>
<rect x="412.55" y="163.13" width="6.30" height="14.26" fill="#481c48"/>
<rect x="412.55" y="176.40" width="6.30" height="10.95" fill="#461c48"/>
<rect x="412.55" y="186.35" width="6.30" height="7.63" fill="#451c47"/>
<rect x="412.55" y="192.98" width="6.30" height="7.63" fill="#431c46"/>
<rect x="412.55" y="199.61" width="6.30" height="4.32" fill="#421b45"/>
<rect x="412.55" y="202.92" width="6.30" height="4.32" fill="#401b44"/>
<rect x="412.55" y="206.24" width="6.30" height="4.32" fill="#3d1a42"/>
<rect x="412.55" y="209.56" width="6.30" height="4.32" fill="#3c1a42"/>
<rect x="412.55" y="212.87" width="6.30" height="4.32" fill="#381a40"/>
<rect x="412.55" y="216.19" width="6.30" height="4.32" fill="#37193f"/>
<rect x="412.55" y="219.50" width="6.30" height="7.63" fill="#35193e"/>
<rect x="412.55" y="226.14" width="6.30" height="4.32" fill="#34193d"/>
<rect x="412.55" y="229.45" width="6.30" height="7.63" fill="#33183c"/>
<rect x="412.55" y="236.08" width="6.30" height="4.32" fill="#30173a"/>
<rect x="412.55" y="239.40" width="6.30" height="4.32" fill="#2d1738"/>
<rect x="412.55" y="242.71" width="6.30" height="4.32" fill="#2a1636"/>
<rect x="412.55" y="246.03" width="6.30" height="4.32" fill="#281535"/>
<rect x="412.55" y="249.35" width="6.30" height="4.32" fill="#251433"/>
<rect x="412.55" y="252.66" width="6.30" height="4.32" fill="#241432"/>
<rect x="412.55" y="255.98" width="6.30" height="4.32" fill="#221331"/>
<rect x="412.55" y="259.29" width="6.30" height="4.32" fill="#211330"/>
<rect x="412.55" y="262.61" width="6.30" height="4.32" fill="#20122e"/>
<rect x="412.55" y="265.93" width="6.30" height="7.63" fill="#1e122d"/>
<rect x="412.55" y="272.56" width="6.30" height="7.63" fill="#1d112c"/>
<rect x="412.55" y="279.19" width="6.30" height="4.32" fill="#1b112b"/>
<rect x="412.55" y="282.50" width="6.30" height="4.32" fill="#1a102a"/>
<rect x="412.55" y="285.82" width="6.30" height="4.32" fill="#180f29"/>
<rect x="412.55" y="289.14" width="6.30" height="4.32" fill="#170f28"/>
<rect x="412.55" y="292.45" width="6.30" height="4.32" fill="#130d25"/>
<rect x="412.55" y="295.77" width="6.30" height="4.32" fill="#0e0b22"/>
<rect x="412.55" y="299.08" width="6.30" height="3.32" fill="#0a091f"/>
<rect x="417.85" y="159.82" width="6.30" height="4.32" fill="#6d1f56"/>
<rect x="417.85" y="163.13" width="6.30" height="4.32" fill="#6b1f56"/>
<rect x="417.85" y="166.45" width="6.30" height="4.32" fill="#691f55"/>
<rect x="417.85" y="169.77" width="6.30" height="4.32" fill="#681f55"/>
<rect x="417.85" y="173.08" width="6.30" height="4.32" fill="#661f54"/>
<rect x="417.85" y="176.40" width="6.30" height="4.32" fill="#631f53"/>
<rect x="417.85" y="179.71" width="6.30" height="4.32" fill="#611f53"/>
<rect x="417.85" y="183.03" width="6.30" height="4.32" fill="#601f52"/>
<rect x="417.85" y="186.35" width="6.30" height="4.32" fill="#5e1f52"/>
<rect x="417.85" y="189.66" width="6.30" height="4.32" fill="#5b1e51"/>
<rect x="417.85" y="192.98" width="6.30" height="4.32" fill="#591e50"/>
<rect x="417.85" y="196.29" width="6.30" height="4.32" fill="#581e4f"/>
<rect x="417.85" y="199.61" width="6.30" height="4.32" fill="#561e4f"/>
<rect x="417.85" y="202.92" width="6.30" height="4.32" fill="#541e4e"/>
<rect x="417.85" y="206.24" width="6.30" height="4.32" fill="#511e4d"/>
<rect x="417.85" y="209.56" width="6.30" height="4.32" fill="#501d4c"/>
<rect x="417.85" y="212.87" width="6.30" height="4.32" fill="#4e1d4b"/>
<rect x="417.85" y="216.19" width="6.30" height="4.32" fill="#4c1d4b"/>
<rect x="417.85" y="219.50" width="6.30" height="4.32" fill="#491d49"/>
<rect x="417.85" y="222.82" width="6.30" height="4.32" fill="#481c48"/>
<rect x="417.85" y="226.14" width="6.30" height="4.32" fill="#461c48"/>
<rect x="417.85" y="229.45" width="6.30" height="4.32" fill="#451c47"/>
<rect x="417.85" y="232.77" width="6.30" height="4.32" fill="#431c46"/>
<rect x="417.85" y="236.08" width="6.30" height="10.95" fill="#401b44"/>
<rect x="417.85" y="246.03" width="6.30" height="4.32" fill="#3f1b43"/>
<rect x="417.85" y="249.35" width="6.30" height="7.63" fill="#3d1a42"/>
<rect x="417.85" y="255.98" width="6.30" height="4.32" fill="#3c1a42"/>
<rect x="417.85" y="259.29" width="6.30" height="4.32" fill="#3a1a41"/>
<rect x="417.85" y="262.61" width="6.30" height="7.63" fill="#381a40"/>
<rect x="417.85" y="269.24" width="6.30" height="4.32" fill="#37193f"/>
<rect x="417.85" y="272.56" width="6.30" height="7.63" fill="#35193e"/>
<rect x="417.85" y="279.19" width="6.30" height="4.32" fill="#34193d"/>
<rect x="417.85" y="282.50" width="6.30" height="4.32" fill="#33183c"/>
<rect x="417.85" y="285.82" width="6.30" height="7.63" fill="#31183b"/>
<rect x="417.85" y="292.45" width="6.30" height="4.32" fill="#30173a"/>
<rect x="417.85" y="295.77" width="6.30" height="6.63" fill="#2e1739"/>
<rect x="423.15" y="179.71" width="6.30" height="40.79" fill="#bf1654"/>
<rect x="423.15" y="219.50" width="6.30" height="14.26" fill="#711f57"/>
<rect x="423.15" y="232.77" width="6.30" height="20.90" fill="#701f57"/>
<rect x="423.15" y="252.66" width="6.30" height="24.21" fill="#6e1f57"/>
<rect x="423.15" y="275.87" width="6.30" height="4.32" fill="#6d1f56"/>
<rect x="423.15" y="279.19" width="6.30" height="4.32" fill="#511e4d"/>
<rect x="423.15" y="282.50" width="6.30" height="7.63" fill="#501d4c"/>
<rect x="423.15" y="289.14" width="6.30" height="7.63" fill="#4e1d4b"/>
<rect x="423.15" y="295.77" width="6.30" height="6.63" fill="#4c1d4b"/>
<rect x="428.45" y="199.61" width="6.30" height="14.26" fill="#c21753"/>
<rect x="428.45" y="212.87" width="6.30" height="17.58" fill="#c11754"/>
<rect x="428.45" y="229.45" width="6.30" height="10.95" fill="#bf1654"/>
<rect x="428.45" y="239.40" width="6.30" height="10.95" fill="#7a1f59"/>
<rect x="428.45" y="249.35" width="6.30" height="17.58" fill="#781f59"/>
<rect x="428.45" y="265.93" width="6.30" height="17.58" fill="#761f58"/>
<rect x="428.45" y="282.50" width="6.30" height="4.32" fill="#751f58"/>
<rect x="428.45" y="285.82" width="6.30" height="16.58" fill="#591e50"/>
<rect x="433.75" y="219.50" width="6.30" height="4.32" fill="#db2946"/>
<rect x="433.75" y="222.82" width="6.30" height="4.32" fill="#d82748"/>
<rect x="433.75" y="226.14" width="6.30" height="4.32" fill="#d62449"/>
<rect x="433.75" y="229.45" width="6.30" height="4.32" fill="#d3214b"/>
<rect x="433.75" y="232.77" width="6.30" height="4.32" fill="#d11f4c"/>
<rect x="433.75" y="236.08" width="6.30" height="4.32" fill="#ce1d4e"/>
<rect x="433.75" y="239.40" width="6.30" height="4.32" fill="#cb1b4f"/>
<rect x="433.75" y="242.71" width="6.30" height="4.32" fill="#c81951"/>
<rect x="433.75" y="246.03" width="6.30" height="4.32" fill="#c51852"/>
<rect x="433.75" y="249.35" width="6.30" height="4.32" fill="#c21753"/>
<rect x="433.75" y="252.66" width="6.30" height="4.32" fill="#bf1654"/>
<rect x="433.75" y="255.98" width="6.30" height="34.16" fill="#8b1d5b"/>
<rect x="433.75" y="289.14" width="6.30" height="13.26" fill="#6d1f56"/>
<rect x="439.06" y="226.14" width="6.30" height="37.47" fill="#ed503e"/>
<rect x="439.06" y="262.61" width="6.30" height="30.84" fill="#db2946"/>
<rect x="439.06" y="292.45" width="6.30" height="9.95" fill="#7f1e5a"/>
<rect x="444.36" y="232.77" width="6.30" height="34.16" fill="#ee523f"/>
<rect x="444.36" y="265.93" width="6.30" height="30.84" fill="#db2946"/>
<rect x="444.36" y="295.77" width="6.30" height="6.63" fill="#901d5b"/>
<rect x="449.66" y="236.08" width="6.30" height="34.16" fill="#ee543f"/>
<rect x="449.66" y="269.24" width="6.30" height="27.53" fill="#db2946"/>
<rect x="449.66" y="295.77" width="6.30" height="6.63" fill="#9c1b5b"/>
<rect x="454.96" y="242.71" width="6.30" height="30.84" fill="#ef5840"/>
<rect x="454.96" y="272.56" width="6.30" height="24.21" fill="#db2946"/>
<rect x="454.96" y="295.77" width="6.30" height="6.63" fill="#af1759"/>
<rect x="460.26" y="246.03" width="6.30" height="30.84" fill="#ef5a41"/>
<rect x="460.26" y="275.87" width="6.30" height="20.90" fill="#db2946"/>
<rect x="460.26" y="295.77" width="6.30" height="6.63" fill="#b71657"/>
<rect x="465.56" y="249.35" width="6.30" height="30.84" fill="#f05c42"/>
<rect x="465.56" y="279.19" width="6.30" height="20.90" fill="#db2946"/>
<rect x="465.56" y="299.08" width="6.30" height="3.32" fill="#bf1654"/>
<rect x="470.86" y="252.66" width="6.30" height="27.53" fill="#f05c42"/>
<rect x="470.86" y="279.19" width="6.30" height="20.90" fill="#db2946"/>
<rect x="470.86" y="299.08" width="6.30" height="3.32" fill="#c71951"/>
<rect x="476.17" y="255.98" width="6.30" height="27.53" fill="#f06043"/>
<rect x="476.17" y="282.50" width="6.30" height="17.58" fill="#dd2c45"/>
<rect x="476.17" y="299.08" width="6.30" height="3.32" fill="#d2204c"/>
<rect x="481.47" y="259.29" width="6.30" height="24.21" fill="#f16244"/>
<rect x="481.47" y="282.50" width="6.30" height="17.58" fill="#dd2c45"/>
<rect x="481.47" y="299.08" width="6.30" height="3.32" fill="#d5224a"/>
<rect x="486.77" y="262.61" width="6.30" height="24.21" fill="#f16445"/>
<rect x="486.77" y="285.82" width="6.30" height="16.58" fill="#dd2c45"/>
<rect x="492.07" y="265.93" width="6.30" height="20.90" fill="#f16646"/>
<rect x="492.07" y="285.82" width="6.30" height="16.58" fill="#dd2c45"/>
<rect x="497.37" y="269.24" width="6.30" height="20.90" fill="#f26948"/>
<rect x="497.37" y="289.14" width="6.30" height="13.26" fill="#de2e44"/>
<rect x="502.67" y="275.87" width="6.30" height="17.58" fill="#f26b49"/>
<rect x="502.67" y="292.45" width="6.30" height="9.95" fill="#de2e44"/>
<rect x="507.97" y="282.50" width="6.30" height="10.95" fill="#f26b49"/>
<rect x="507.97" y="292.45" width="6.30" height="9.95" fill="#df2f44"/>
<rect x="513.27" y="285.82" width="6.30" height="4.32" fill="#f7c6a6"/>
<rect x="513.27" y="289.14" width="6.30" height="4.32" fill="#f6c19f"/>
<rect x="513.27" y="292.45" width="6.30" height="4.32" fill="#f6bc99"/>
<rect x="513.27" y="295.77" width="6.30" height="6.63" fill="#de2e44"/>
<rect x="518.58" y="285.82" width="6.30" height="4.32" fill="#f7c6a6"/>
<rect x="518.58" y="289.14" width="6.30" height="4.32" fill="#f7c2a2"/>
<rect x="518.58" y="292.45" width="6.30" height="4.32" fill="#f6bf9d"/>
<rect x="518.58" y="295.77" width="6.30" height="4.32" fill="#f6bc99"/>
<rect x="518.58" y="299.08" width="6.30" height="3.32" fill="#f05c42"/>
<rect x="523.88" y="289.14" width="6.30" height="4.32" fill="#f7c7a8"/>
<rect x="523.88" y="292.45" width="6.30" height="4.32" fill="#f7c2a2"/>
<rect x="523.88" y="295.77" width="6.30" height="4.32" fill="#f6be9b"/>
<rect x="523.88" y="299.08" width="6.30" height="3.32" fill="#f6b995"/>
<rect x="529.18" y="289.14" width="6.30" height="4.32" fill="#f7caac"/>
<rect x="529.18" y="292.45" width="6.30" height="4.32" fill="#f7c6a6"/>
<rect x="529.18" y="295.77" width="6.30" height="4.32" fill="#f6c19f"/>
<rect x="529.18" y="299.08" width="6.30" height="3.32" fill="#f6bc99"/>
<rect x="534.48" y="289.14" width="6.30" height="4.32" fill="#f7cdb1"/>
<rect x="534.48" y="292.45" width="6.30" height="4.32" fill="#f7c9aa"/>
<rect x="534.48" y="295.77" width="6.30" height="4.32" fill="#f7c2a2"/>
<rect x="534.48" y="299.08" width="6.30" height="3.32" fill="#f6be9b"/>
<rect x="539.78" y="289.14" width="6.30" height="4.32" fill="#f7cfb3"/>
<rect x="539.78" y="292.45" width="6.30" height="4.32" fill="#f7caac"/>
<rect x="539.78" y="295.77" width="6.30" height="4.32" fill="#f7c6a6"/>
<rect x="539.78" y="299.08" width="6.30" height="3.32" fill="#f6c19f"/>
<rect x="545.08" y="289.14" width="6.30" height="4.32" fill="#f8d1b8"/>
<rect x="545.08" y="292.45" width="6.30" height="4.32" fill="#f7cdb1"/>
<rect x="545.08" y="295.77" width="6.30" height="4.32" fill="#f7c9aa"/>
<rect x="545.08" y="299.08" width="6.30" height="3.32" fill="#f7c4a4"/>
<rect x="550.38" y="292.45" width="6.30" height="4.32" fill="#f7d0b5"/>
<rect x="550.38" y="295.77" width="6.30" height="4.32" fill="#f7ccaf"/>
<rect x="550.38" y="299.08" width="6.30" height="3.32" fill="#f7c7a8"/>
<rect x="555.68" y="292.45" width="6.30" height="4.32" fill="#f8d3ba"/>
<rect x="555.68" y="295.77" width="6.30" height="4.32" fill="#f7cfb3"/>
<rect x="555.68" y="299.08" width="6.30" height="3.32" fill="#f7caac"/>
<rect x="560.99" y="292.45" width="6.30" height="4.32" fill="#f8d4bc"/>
<rect x="560.99" y="295.77" width="6.30" height="4.32" fill="#f7d0b5"/>
<rect x="560.99" y="299.08" width="6.30" height="3.32" fill="#f7ccaf"/>
<rect x="566.29" y="292.45" width="6.30" height="4.32" fill="#f8d7c0"/>
<rect x="566.29" y="295.77" width="6.30" height="4.32" fill="#f8d3ba"/>
<rect x="566.29" y="299.08" width="6.30" height="3.32" fill="#f7cfb3"/>
<rect x="571.59" y="292.45" width="6.30" height="4.32" fill="#f8dac5"/>
<rect x="571.59" y="295.77" width="6.30" height="4.32" fill="#f8d6be"/>
<rect x="571.59" y="299.08" width="6.30" height="3.32" fill="#f8d1b8"/>
<rect x="576.89" y="295.77" width="6.30" height="4.32" fill="#f8d9c3"/>
<rect x="576.89" y="299.08" width="6.30" height="3.32" fill="#f8d4bc"/>
<rect x="582.19" y="295.77" width="6.30" height="4.32" fill="#f8dcc7"/>
<rect x="582.19" y="299.08" width="6.30" height="3.32" fill="#f8d6be"/>
<rect x="587.49" y="295.77" width="6.30" height="4.32" fill="#f9ddc9"/>
<rect x="587.49" y="299.08" width="6.30" height="3.32" fill="#f8d9c3"/>
<rect x="592.79" y="295.77" width="6.30" height="4.32" fill="#f9e0cd"/>
<rect x="592.79" y="299.08" width="6.30" height="3.32" fill="#f8dcc7"/>
<rect x="598.09" y="295.77" width="6.30" height="4.32" fill="#f9e3d2"/>
<rect x="598.09" y="299.08" width="6.30" height="3.32" fill="#f9dfcb"/>
<rect x="603.39" y="299.08" width="6.30" height="3.32" fill="#f9e2d0"/>
<rect x="608.70" y="299.08" width="6.30" height="3.32" fill="#f9e3d2"/>
<rect x="614.00" y="299.08" width="6.30" height="3.32" fill="#fae6d6"/>
<rect x="619.30" y="299.08" width="6.30" height="3.32" fill="#fae9da"/>
<polygon points="412.55,28.50 627.60,28.50 627.60,302.40 624.60,302.40 624.60,299.08 619.30,299.08 619.30,299.08 614.00,299.08 614.00,299.08 608.70,299.08 608.70,299.08 603.39,299.08 603.39,295.77 598.09,295.77 598.09,295.77 592.79,295.77 592.79,295.77 587.49,295.77 587.49,295.77 582.19,295.77 582.19,295.77 576.89,295.77 576.89,292.45 571.59,292.45 571.59,292.45 566.29,292.45 566.29,292.45 560.99,292.45 560.99,292.45 555.68,292.45 555.68,292.45 550.38,292.45 550.38,289.14 545.08,289.14 545.08,289.14 539.78,289.14 539.78,289.14 534.48,289.14 534.48,289.14 529.18,289.14 529.18,289.14 523.88,289.14 523.88,285.82 518.58,285.82 518.58,285.82 513.27,285.82 513.27,282.50 507.97,282.50 507.97,275.87 502.67,275.87 502.67,269.24 497.37,269.24 497.37,265.93 492.07,265.93 492.07,262.61 486.77,262.61 486.77,259.29 481.47,259.29 481.47,255.98 476.17,255.98 476.17,252.66 470.86,252.66 470.86,249.35 465.56,249.35 465.56,246.03 460.26,246.03 460.26,242.71 454.96,242.71 454.96,236.08 449.66,236.08 449.66,232.77 444.36,232.77 444.36,226.14 439.06,226.14 439.06,219.50 433.75,219.50 433.75,199.61 428.45,199.61 428.45,179.71 423.15,179.71 423.15,159.82 417.85,159.82 417.85,30.50 412.55,30.50" fill="#fff"/>
<rect x="412.55" y="30.50" width="212.05" height="271.90" fill="none" stroke="#1a1a1a" stroke-width="0.9"/>
<line x1="408.95" y1="300.74" x2="412.55" y2="300.74" stroke="#000" stroke-width="0.9"/>
<text x="405.35" y="305.19" font-size="15.8" text-anchor="end" textLength="9.79" lengthAdjust="spacingAndGlyphs">2</text>
<line x1="408.95" y1="267.58" x2="412.55" y2="267.58" stroke="#000" stroke-width="0.9"/>
<text x="405.35" y="272.03" font-size="15.8" text-anchor="end" textLength="19.59" lengthAdjust="spacingAndGlyphs">12</text>
<line x1="408.95" y1="234.42" x2="412.55" y2="234.42" stroke="#000" stroke-width="0.9"/>
<text x="405.35" y="238.87" font-size="15.8" text-anchor="end" textLength="19.59" lengthAdjust="spacingAndGlyphs">22</text>
<line x1="408.95" y1="201.27" x2="412.55" y2="201.27" stroke="#000" stroke-width="0.9"/>
<text x="405.35" y="205.72" font-size="15.8" text-anchor="end" textLength="19.59" lengthAdjust="spacingAndGlyphs">32</text>
<line x1="408.95" y1="168.11" x2="412.55" y2="168.11" stroke="#000" stroke-width="0.9"/>
<text x="405.35" y="172.56" font-size="15.8" text-anchor="end" textLength="19.59" lengthAdjust="spacingAndGlyphs">42</text>
<line x1="408.95" y1="134.95" x2="412.55" y2="134.95" stroke="#000" stroke-width="0.9"/>
<text x="405.35" y="139.40" font-size="15.8" text-anchor="end" textLength="19.59" lengthAdjust="spacingAndGlyphs">52</text>
<line x1="408.95" y1="101.79" x2="412.55" y2="101.79" stroke="#000" stroke-width="0.9"/>
<text x="405.35" y="106.24" font-size="15.8" text-anchor="end" textLength="19.59" lengthAdjust="spacingAndGlyphs">62</text>
<line x1="408.95" y1="68.63" x2="412.55" y2="68.63" stroke="#000" stroke-width="0.9"/>
<text x="405.35" y="73.08" font-size="15.8" text-anchor="end" textLength="19.59" lengthAdjust="spacingAndGlyphs">72</text>
<line x1="408.95" y1="35.47" x2="412.55" y2="35.47" stroke="#000" stroke-width="0.9"/>
<text x="405.35" y="39.92" font-size="15.8" text-anchor="end" textLength="19.59" lengthAdjust="spacingAndGlyphs">82</text>
<line x1="415.20" y1="302.40" x2="415.20" y2="306.00" stroke="#000" stroke-width="0.9"/>
<text x="415.20" y="322.25" font-size="15.8" text-anchor="middle" textLength="9.79" lengthAdjust="spacingAndGlyphs">1</text>
<line x1="441.71" y1="302.40" x2="441.71" y2="306.00" stroke="#000" stroke-width="0.9"/>
<text x="441.71" y="322.25" font-size="15.8" text-anchor="middle" textLength="9.79" lengthAdjust="spacingAndGlyphs">6</text>
<line x1="468.21" y1="302.40" x2="468.21" y2="306.00" stroke="#000" stroke-width="0.9"/>
<text x="468.21" y="322.25" font-size="15.8" text-anchor="middle" textLength="19.59" lengthAdjust="spacingAndGlyphs">11</text>
<line x1="494.72" y1="302.40" x2="494.72" y2="306.00" stroke="#000" stroke-width="0.9"/>
<text x="494.72" y="322.25" font-size="15.8" text-anchor="middle" textLength="19.59" lengthAdjust="spacingAndGlyphs">16</text>
<line x1="521.23" y1="302.40" x2="521.23" y2="306.00" stroke="#000" stroke-width="0.9"/>
<text x="521.23" y="322.25" font-size="15.8" text-anchor="middle" textLength="19.59" lengthAdjust="spacingAndGlyphs">21</text>
<line x1="547.73" y1="302.40" x2="547.73" y2="306.00" stroke="#000" stroke-width="0.9"/>
<text x="547.73" y="322.25" font-size="15.8" text-anchor="middle" textLength="19.59" lengthAdjust="spacingAndGlyphs">26</text>
<line x1="574.24" y1="302.40" x2="574.24" y2="306.00" stroke="#000" stroke-width="0.9"/>
<text x="574.24" y="322.25" font-size="15.8" text-anchor="middle" textLength="19.59" lengthAdjust="spacingAndGlyphs">31</text>
<line x1="600.74" y1="302.40" x2="600.74" y2="306.00" stroke="#000" stroke-width="0.9"/>
<text x="600.74" y="322.25" font-size="15.8" text-anchor="middle" textLength="19.59" lengthAdjust="spacingAndGlyphs">36</text>
<text x="518.88" y="342.20" font-size="20.0" text-anchor="middle" font-style="italic">k</text>
<text x="377.85" y="167.15" font-size="20.2" text-anchor="middle" font-style="italic" textLength="16.90" lengthAdjust="spacingAndGlyphs" transform="rotate(-90 377.85 167.15)">m</text>
<text x="370.50" y="30.70" font-size="19.8" font-weight="bold" stroke="#000" stroke-width="0.35">b</text>
<defs><linearGradient id="gb" x1="0" y1="0" x2="0" y2="1"><stop offset="0.0000" stop-color="#faebdd"/><stop offset="0.0312" stop-color="#f9dfcb"/><stop offset="0.0625" stop-color="#f8d3ba"/><stop offset="0.0938" stop-color="#f7c7a8"/><stop offset="0.1250" stop-color="#f6bb97"/><stop offset="0.1562" stop-color="#f6ae87"/><stop offset="0.1875" stop-color="#f6a178"/><stop offset="0.2188" stop-color="#f5946b"/><stop offset="0.2500" stop-color="#f4865e"/><stop offset="0.2812" stop-color="#f37852"/><stop offset="0.3125" stop-color="#f26948"/><stop offset="0.3438" stop-color="#ef5a41"/><stop offset="0.3750" stop-color="#ec4a3e"/><stop offset="0.4062" stop-color="#e63b40"/><stop offset="0.4375" stop-color="#de2e44"/><stop offset="0.4688" stop-color="#d5224a"/><stop offset="0.5000" stop-color="#cb1b4f"/><stop offset="0.5312" stop-color="#bf1654"/><stop offset="0.5625" stop-color="#b21758"/><stop offset="0.5938" stop-color="#a4195b"/><stop offset="0.6250" stop-color="#971c5b"/><stop offset="0.6562" stop-color="#891e5b"/><stop offset="0.6875" stop-color="#7b1f59"/><stop offset="0.7188" stop-color="#6e1f57"/><stop offset="0.7500" stop-color="#611f53"/><stop offset="0.7812" stop-color="#541e4e"/><stop offset="0.8125" stop-color="#481c48"/><stop offset="0.8438" stop-color="#3c1a42"/><stop offset="0.8750" stop-color="#30173a"/><stop offset="0.9062" stop-color="#241432"/><stop offset="0.9375" stop-color="#180f29"/><stop offset="0.9688" stop-color="#0d0a21"/><stop offset="1.0000" stop-color="#03051a"/></linearGradient></defs>
<rect x="637.70" y="291.40" width="12.80" height="2.00" fill="#a4a4aa"/>
<rect x="637.70" y="40.00" width="12.80" height="251.70" fill="url(#gb)"/>
<rect x="637.70" y="40.00" width="12.80" height="253.40" fill="none" stroke="#333" stroke-width="1.0"/>
<line x1="650.50" y1="251.42" x2="654.10" y2="251.42" stroke="#000" stroke-width="0.9"/>
<text x="657.50" y="258.22" font-size="15.8" textLength="29.38" lengthAdjust="spacingAndGlyphs">500</text>
<line x1="650.50" y1="202.34" x2="654.10" y2="202.34" stroke="#000" stroke-width="0.9"/>
<text x="657.50" y="209.14" font-size="15.8" textLength="29.38" lengthAdjust="spacingAndGlyphs">600</text>
<line x1="650.50" y1="153.26" x2="654.10" y2="153.26" stroke="#000" stroke-width="0.9"/>
<text x="657.50" y="160.06" font-size="15.8" textLength="29.38" lengthAdjust="spacingAndGlyphs">700</text>
<line x1="650.50" y1="104.18" x2="654.10" y2="104.18" stroke="#000" stroke-width="0.9"/>
<text x="657.50" y="110.98" font-size="15.8" textLength="29.38" lengthAdjust="spacingAndGlyphs">800</text>
<line x1="650.50" y1="55.10" x2="654.10" y2="55.10" stroke="#000" stroke-width="0.9"/>
<text x="657.50" y="61.90" font-size="15.8" textLength="29.38" lengthAdjust="spacingAndGlyphs">900</text>
<g transform="translate(632.40 29.70)">
<path d="M3.70,-14.30 L0.30,-6.05 L3.70,2.20" fill="none" stroke="#000" stroke-width="1.35" stroke-linejoin="miter"/>
<text x="6.60" y="0.00" font-size="18.6" font-style="italic" textLength="11.40" lengthAdjust="spacingAndGlyphs">R</text>
<text x="20.40" y="1.80" font-size="12.6" textLength="8.40" lengthAdjust="spacingAndGlyphs">∞</text>
<path d="M31.90,-14.30 L35.30,-6.05 L31.90,2.20" fill="none" stroke="#000" stroke-width="1.35" stroke-linejoin="miter"/>
</g>
<rect x="483.50" y="38.40" width="136.60" height="136.10" fill="#fff" stroke="#000" stroke-width="0.9"/>
<line x1="486.64" y1="174.50" x2="486.64" y2="178.10" stroke="#000" stroke-width="0.9"/>
<text x="486.64" y="193.10" font-size="15.8" text-anchor="middle" textLength="9.79" lengthAdjust="spacingAndGlyphs">0</text>
<line x1="563.29" y1="174.50" x2="563.29" y2="178.10" stroke="#000" stroke-width="0.9"/>
<text x="563.29" y="193.10" font-size="15.8" text-anchor="middle" textLength="19.59" lengthAdjust="spacingAndGlyphs">50</text>
<line x1="479.90" y1="173.80" x2="483.50" y2="173.80" stroke="#000" stroke-width="0.9"/>
<text x="476.50" y="179.70" font-size="15.8" text-anchor="end" textLength="29.38" lengthAdjust="spacingAndGlyphs">400</text>
<line x1="479.90" y1="138.30" x2="483.50" y2="138.30" stroke="#000" stroke-width="0.9"/>
<text x="476.50" y="144.20" font-size="15.8" text-anchor="end" textLength="29.38" lengthAdjust="spacingAndGlyphs">500</text>
<line x1="479.90" y1="102.80" x2="483.50" y2="102.80" stroke="#000" stroke-width="0.9"/>
<text x="476.50" y="108.70" font-size="15.8" text-anchor="end" textLength="29.38" lengthAdjust="spacingAndGlyphs">600</text>
<line x1="479.90" y1="67.30" x2="483.50" y2="67.30" stroke="#000" stroke-width="0.9"/>
<text x="476.50" y="73.20" font-size="15.8" text-anchor="end" textLength="29.38" lengthAdjust="spacingAndGlyphs">700</text>
<text x="551.80" y="212.00" font-size="18.8" text-anchor="middle" font-style="italic" textLength="15.20" lengthAdjust="spacingAndGlyphs">m</text>
<g transform="translate(440.10 106.55) rotate(-90) scale(0.876) translate(-17.80 0)">
<path d="M3.70,-14.30 L0.30,-6.05 L3.70,2.20" fill="none" stroke="#000" stroke-width="1.35" stroke-linejoin="miter"/>
<text x="6.60" y="0.00" font-size="18.6" font-style="italic" textLength="11.40" lengthAdjust="spacingAndGlyphs">R</text>
<text x="20.40" y="1.80" font-size="12.6" textLength="8.40" lengthAdjust="spacingAndGlyphs">∞</text>
<path d="M31.90,-14.30 L35.30,-6.05 L31.90,2.20" fill="none" stroke="#000" stroke-width="1.35" stroke-linejoin="miter"/>
</g>
<circle cx="489.71" cy="168.47" r="3.3" fill="#1f77b4"/>
<circle cx="491.24" cy="166.46" r="3.3" fill="#1f77b4"/>
<circle cx="492.77" cy="164.45" r="3.3" fill="#1f77b4"/>
<circle cx="494.31" cy="162.44" r="3.3" fill="#1f77b4"/>
<circle cx="495.84" cy="161.73" r="3.3" fill="#1f77b4"/>
<circle cx="497.37" cy="161.02" r="3.3" fill="#1f77b4"/>
<circle cx="498.90" cy="160.31" r="3.3" fill="#1f77b4"/>
<circle cx="500.44" cy="159.60" r="3.3" fill="#1f77b4"/>
<circle cx="501.97" cy="159.17" r="3.3" fill="#1f77b4"/>
<circle cx="503.50" cy="158.75" r="3.3" fill="#1f77b4"/>
<circle cx="505.04" cy="158.32" r="3.3" fill="#1f77b4"/>
<circle cx="506.57" cy="157.90" r="3.3" fill="#1f77b4"/>
<circle cx="508.10" cy="157.47" r="3.3" fill="#1f77b4"/>
<circle cx="509.63" cy="156.58" r="3.3" fill="#1f77b4"/>
<circle cx="511.17" cy="155.69" r="3.3" fill="#1f77b4"/>
<circle cx="512.70" cy="154.81" r="3.3" fill="#1f77b4"/>
<circle cx="514.23" cy="153.92" r="3.3" fill="#1f77b4"/>
<circle cx="515.77" cy="152.68" r="3.3" fill="#1f77b4"/>
<circle cx="517.30" cy="151.44" r="3.3" fill="#1f77b4"/>
<circle cx="518.83" cy="150.19" r="3.3" fill="#1f77b4"/>
<circle cx="520.37" cy="148.95" r="3.3" fill="#1f77b4"/>
<circle cx="521.90" cy="148.45" r="3.3" fill="#1f77b4"/>
<circle cx="523.43" cy="147.96" r="3.3" fill="#1f77b4"/>
<circle cx="524.97" cy="147.46" r="3.3" fill="#1f77b4"/>
<circle cx="526.50" cy="146.96" r="3.3" fill="#1f77b4"/>
<circle cx="528.03" cy="146.46" r="3.3" fill="#1f77b4"/>
<circle cx="529.56" cy="145.40" r="3.3" fill="#1f77b4"/>
<circle cx="531.10" cy="144.33" r="3.3" fill="#1f77b4"/>
<circle cx="532.63" cy="143.27" r="3.3" fill="#1f77b4"/>
<circle cx="534.16" cy="142.20" r="3.3" fill="#1f77b4"/>
<circle cx="535.70" cy="141.14" r="3.3" fill="#1f77b4"/>
<circle cx="537.23" cy="140.78" r="3.3" fill="#1f77b4"/>
<circle cx="538.76" cy="140.43" r="3.3" fill="#1f77b4"/>
<circle cx="540.29" cy="140.07" r="3.3" fill="#1f77b4"/>
<circle cx="541.83" cy="139.72" r="3.3" fill="#1f77b4"/>
<circle cx="543.36" cy="139.37" r="3.3" fill="#1f77b4"/>
<circle cx="544.89" cy="139.19" r="3.3" fill="#1f77b4"/>
<circle cx="546.43" cy="139.01" r="3.3" fill="#1f77b4"/>
<circle cx="547.96" cy="138.83" r="3.3" fill="#1f77b4"/>
<circle cx="549.49" cy="138.65" r="3.3" fill="#1f77b4"/>
<circle cx="551.03" cy="138.48" r="3.3" fill="#1f77b4"/>
<circle cx="552.56" cy="138.30" r="3.3" fill="#1f77b4"/>
<circle cx="554.09" cy="138.21" r="3.3" fill="#1f77b4"/>
<circle cx="555.62" cy="138.12" r="3.3" fill="#1f77b4"/>
<circle cx="557.16" cy="138.03" r="3.3" fill="#1f77b4"/>
<circle cx="558.69" cy="137.94" r="3.3" fill="#1f77b4"/>
<circle cx="560.22" cy="138.12" r="3.3" fill="#1f77b4"/>
<circle cx="561.76" cy="138.30" r="3.3" fill="#1f77b4"/>
<circle cx="563.29" cy="138.48" r="3.3" fill="#1f77b4"/>
<circle cx="564.82" cy="138.65" r="3.3" fill="#1f77b4"/>
<circle cx="566.36" cy="138.65" r="3.3" fill="#1f77b4"/>
<circle cx="567.89" cy="139.01" r="3.3" fill="#1f77b4"/>
<circle cx="569.42" cy="139.01" r="3.3" fill="#1f77b4"/>
<circle cx="570.95" cy="139.37" r="3.3" fill="#1f77b4"/>
<circle cx="572.49" cy="139.37" r="3.3" fill="#1f77b4"/>
<circle cx="574.02" cy="139.72" r="3.3" fill="#1f77b4"/>
<circle cx="575.55" cy="139.72" r="3.3" fill="#1f77b4"/>
<circle cx="577.09" cy="140.07" r="3.3" fill="#1f77b4"/>
<circle cx="578.62" cy="140.43" r="3.3" fill="#1f77b4"/>
<circle cx="580.15" cy="141.85" r="3.3" fill="#1f77b4"/>
<circle cx="581.69" cy="149.31" r="3.3" fill="#1f77b4"/>
<circle cx="583.22" cy="148.24" r="3.3" fill="#1f77b4"/>
<circle cx="584.75" cy="147.18" r="3.3" fill="#1f77b4"/>
<circle cx="586.28" cy="146.11" r="3.3" fill="#1f77b4"/>
<circle cx="587.82" cy="145.04" r="3.3" fill="#1f77b4"/>
<circle cx="589.35" cy="143.98" r="3.3" fill="#1f77b4"/>
<circle cx="590.88" cy="142.91" r="3.3" fill="#1f77b4"/>
<circle cx="592.42" cy="141.85" r="3.3" fill="#1f77b4"/>
<circle cx="593.95" cy="140.43" r="3.3" fill="#1f77b4"/>
<circle cx="595.48" cy="139.37" r="3.3" fill="#1f77b4"/>
<circle cx="597.02" cy="138.65" r="3.3" fill="#1f77b4"/>
<circle cx="598.55" cy="151.44" r="3.3" fill="#1f77b4"/>
<circle cx="600.08" cy="150.37" r="3.3" fill="#1f77b4"/>
<circle cx="601.62" cy="149.31" r="3.3" fill="#1f77b4"/>
<circle cx="603.15" cy="148.24" r="3.3" fill="#1f77b4"/>
<circle cx="604.68" cy="147.18" r="3.3" fill="#1f77b4"/>
<circle cx="606.21" cy="145.75" r="3.3" fill="#1f77b4"/>
<circle cx="607.75" cy="140.78" r="3.3" fill="#1f77b4"/>
<circle cx="609.28" cy="140.43" r="3.3" fill="#1f77b4"/>
<circle cx="610.81" cy="140.43" r="3.3" fill="#1f77b4"/>
<circle cx="612.35" cy="140.78" r="3.3" fill="#1f77b4"/>
<circle cx="613.88" cy="141.14" r="3.3" fill="#1f77b4"/>
<path d="M486.66,121.40L492.76,127.50M486.66,127.50L492.76,121.40" stroke="#ff7f0e" stroke-width="1.0" fill="none"/>
<path d="M488.19,120.34L494.29,126.44M488.19,126.44L494.29,120.34" stroke="#ff7f0e" stroke-width="1.0" fill="none"/>
<path d="M489.72,118.92L495.82,125.02M489.72,125.02L495.82,118.92" stroke="#ff7f0e" stroke-width="1.0" fill="none"/>
<path d="M491.25,117.86L497.36,123.95M491.25,123.95L497.36,117.86" stroke="#ff7f0e" stroke-width="1.0" fill="none"/>
<path d="M492.79,101.88L498.89,107.98M492.79,107.98L498.89,101.88" stroke="#ff7f0e" stroke-width="1.0" fill="none"/>
<path d="M494.32,101.17L500.42,107.27M494.32,107.27L500.42,101.17" stroke="#ff7f0e" stroke-width="1.0" fill="none"/>
<path d="M495.85,100.46L501.95,106.56M495.85,106.56L501.95,100.46" stroke="#ff7f0e" stroke-width="1.0" fill="none"/>
<path d="M497.39,99.75L503.49,105.85M497.39,105.85L503.49,99.75" stroke="#ff7f0e" stroke-width="1.0" fill="none"/>
<path d="M498.92,99.04L505.02,105.14M498.92,105.14L505.02,99.04" stroke="#ff7f0e" stroke-width="1.0" fill="none"/>
<path d="M500.45,98.33L506.55,104.43M500.45,104.43L506.55,98.33" stroke="#ff7f0e" stroke-width="1.0" fill="none"/>
<path d="M501.99,97.27L508.09,103.36M501.99,103.36L508.09,97.27" stroke="#ff7f0e" stroke-width="1.0" fill="none"/>
<path d="M503.52,96.20L509.62,102.30M503.52,102.30L509.62,96.20" stroke="#ff7f0e" stroke-width="1.0" fill="none"/>
<path d="M505.05,95.14L511.15,101.23M505.05,101.23L511.15,95.14" stroke="#ff7f0e" stroke-width="1.0" fill="none"/>
<path d="M506.58,86.97L512.68,93.07M506.58,93.07L512.68,86.97" stroke="#ff7f0e" stroke-width="1.0" fill="none"/>
<path d="M508.12,86.26L514.22,92.36M508.12,92.36L514.22,86.26" stroke="#ff7f0e" stroke-width="1.0" fill="none"/>
<path d="M509.65,85.55L515.75,91.65M509.65,91.65L515.75,85.55" stroke="#ff7f0e" stroke-width="1.0" fill="none"/>
<path d="M511.18,84.84L517.28,90.94M511.18,90.94L517.28,84.84" stroke="#ff7f0e" stroke-width="1.0" fill="none"/>
<path d="M512.72,84.13L518.82,90.23M512.72,90.23L518.82,84.13" stroke="#ff7f0e" stroke-width="1.0" fill="none"/>
<path d="M514.25,83.42L520.35,89.52M514.25,89.52L520.35,83.42" stroke="#ff7f0e" stroke-width="1.0" fill="none"/>
<path d="M515.78,82.71L521.88,88.81M515.78,88.81L521.88,82.71" stroke="#ff7f0e" stroke-width="1.0" fill="none"/>
<path d="M517.32,81.64L523.42,87.74M517.32,87.74L523.42,81.64" stroke="#ff7f0e" stroke-width="1.0" fill="none"/>
<path d="M518.85,73.12L524.95,79.22M518.85,79.22L524.95,73.12" stroke="#ff7f0e" stroke-width="1.0" fill="none"/>
<path d="M520.38,71.35L526.48,77.45M520.38,77.45L526.48,71.35" stroke="#ff7f0e" stroke-width="1.0" fill="none"/>
<path d="M521.92,69.22L528.01,75.32M521.92,75.32L528.01,69.22" stroke="#ff7f0e" stroke-width="1.0" fill="none"/>
<path d="M523.45,67.09L529.55,73.19M523.45,73.19L529.55,67.09" stroke="#ff7f0e" stroke-width="1.0" fill="none"/>
<path d="M489.71,79.32L493.31,85.98L486.11,85.98Z" fill="#2ca02c"/>
<path d="M491.24,69.03L494.84,75.69L487.64,75.69Z" fill="#2ca02c"/>
<path d="M492.77,68.31L496.37,74.97L489.17,74.97Z" fill="#2ca02c"/>
<path d="M494.31,67.96L497.91,74.62L490.70,74.62Z" fill="#2ca02c"/>
<path d="M495.84,67.61L499.44,74.27L492.24,74.27Z" fill="#2ca02c"/>
<path d="M497.37,67.25L500.97,73.91L493.77,73.91Z" fill="#2ca02c"/>
<path d="M498.90,67.25L502.50,73.91L495.30,73.91Z" fill="#2ca02c"/>
<path d="M500.44,51.98L504.04,58.64L496.84,58.64Z" fill="#2ca02c"/>
<path d="M501.97,50.92L505.57,57.58L498.37,57.58Z" fill="#2ca02c"/>
<path d="M503.50,49.85L507.10,56.52L499.90,56.52Z" fill="#2ca02c"/>
<path d="M505.04,48.79L508.64,55.45L501.44,55.45Z" fill="#2ca02c"/>
<path d="M506.57,48.08L510.17,54.74L502.97,54.74Z" fill="#2ca02c"/>
<path d="M508.10,47.37L511.70,54.03L504.50,54.03Z" fill="#2ca02c"/>
<path d="M509.63,46.66L513.24,53.32L506.03,53.32Z" fill="#2ca02c"/>
<path d="M511.17,45.95L514.77,52.61L507.57,52.61Z" fill="#2ca02c"/>
<path d="M512.70,44.88L516.30,51.55L509.10,51.55Z" fill="#2ca02c"/>
<path d="M514.23,43.82L517.83,50.48L510.63,50.48Z" fill="#2ca02c"/>
<rect x="486.51" y="65.88" width="6.40" height="6.40" fill="#d62728"/>
<rect x="488.04" y="65.88" width="6.40" height="6.40" fill="#d62728"/>
<rect x="489.57" y="65.88" width="6.40" height="6.40" fill="#d62728"/>
<rect x="491.11" y="65.52" width="6.40" height="6.40" fill="#d62728"/>
<rect x="492.64" y="65.16" width="6.40" height="6.40" fill="#d62728"/>
<rect x="494.17" y="44.57" width="6.40" height="6.40" fill="#d62728"/>
<rect x="495.70" y="44.22" width="6.40" height="6.40" fill="#d62728"/>
<rect x="497.24" y="43.86" width="6.40" height="6.40" fill="#d62728"/>
<rect x="498.77" y="43.51" width="6.40" height="6.40" fill="#d62728"/>
<rect x="500.30" y="42.80" width="6.40" height="6.40" fill="#d62728"/>
<rect x="501.84" y="42.09" width="6.40" height="6.40" fill="#d62728"/>
<rect x="503.37" y="41.38" width="6.40" height="6.40" fill="#d62728"/>
<rect x="544.80" y="43.10" width="69.40" height="64.30" rx="2.2" ry="2.2" fill="#fff" fill-opacity="0.85" stroke="#d6d6d6" stroke-width="0.9"/>
<circle cx="559.60" cy="52.00" r="3.3" fill="#1f77b4"/>
<text x="577.50" y="54.90" font-size="10.9" font-style="italic" textLength="6.00" lengthAdjust="spacingAndGlyphs">k</text>
<rect x="586.90" y="50.05" width="7.10" height="0.95" fill="#000"/>
<rect x="586.90" y="52.45" width="7.10" height="0.95" fill="#000"/>
<text x="597.10" y="54.90" font-size="10.6" textLength="6.60" lengthAdjust="spacingAndGlyphs">1</text>
<path d="M556.55,64.35L562.65,70.45M556.55,70.45L562.65,64.35" stroke="#ff7f0e" stroke-width="1.0" fill="none"/>
<text x="577.50" y="70.30" font-size="10.9" font-style="italic" textLength="6.00" lengthAdjust="spacingAndGlyphs">k</text>
<rect x="586.90" y="65.45" width="7.10" height="0.95" fill="#000"/>
<rect x="586.90" y="67.85" width="7.10" height="0.95" fill="#000"/>
<text x="597.10" y="70.30" font-size="10.6" textLength="6.60" lengthAdjust="spacingAndGlyphs">5</text>
<path d="M559.60,79.20L563.20,85.86L556.00,85.86Z" fill="#2ca02c"/>
<text x="577.50" y="85.70" font-size="10.9" font-style="italic" textLength="6.00" lengthAdjust="spacingAndGlyphs">k</text>
<rect x="586.90" y="80.85" width="7.10" height="0.95" fill="#000"/>
<rect x="586.90" y="83.25" width="7.10" height="0.95" fill="#000"/>
<text x="597.10" y="85.70" font-size="10.6" textLength="13.20" lengthAdjust="spacingAndGlyphs">10</text>
<rect x="556.40" y="94.70" width="6.40" height="6.40" fill="#d62728"/>
<text x="577.50" y="100.80" font-size="10.9" font-style="italic" textLength="6.00" lengthAdjust="spacingAndGlyphs">k</text>
<rect x="586.90" y="95.95" width="7.10" height="0.95" fill="#000"/>
<rect x="586.90" y="98.35" width="7.10" height="0.95" fill="#000"/>
<text x="597.10" y="100.80" font-size="10.6" textLength="13.20" lengthAdjust="spacingAndGlyphs">15</text>
<rect x="74.05" y="364.20" width="12.16" height="7.72" fill="#7cd6af"/>
<rect x="74.05" y="370.92" width="12.16" height="4.36" fill="#4dc4ad"/>
<rect x="74.05" y="374.27" width="12.16" height="21.15" fill="#36a2ab"/>
<rect x="74.05" y="394.42" width="12.16" height="14.43" fill="#348ca7"/>
<rect x="74.05" y="407.85" width="12.16" height="14.43" fill="#3572a1"/>
<rect x="74.05" y="421.29" width="12.16" height="14.43" fill="#3b5799"/>
<rect x="74.05" y="434.72" width="12.16" height="31.22" fill="#413f80"/>
<rect x="74.05" y="464.94" width="12.16" height="7.72" fill="#342447"/>
<rect x="74.05" y="471.66" width="12.16" height="4.36" fill="#332345"/>
<rect x="74.05" y="475.01" width="12.16" height="4.36" fill="#322243"/>
<rect x="74.05" y="478.37" width="12.16" height="7.72" fill="#312142"/>
<rect x="74.05" y="485.09" width="12.16" height="4.36" fill="#312140"/>
<rect x="74.05" y="488.45" width="12.16" height="4.36" fill="#30203e"/>
<rect x="74.05" y="491.80" width="12.16" height="4.36" fill="#2a1b33"/>
<rect x="74.05" y="495.16" width="12.16" height="4.36" fill="#291a31"/>
<rect x="74.05" y="498.52" width="12.16" height="7.72" fill="#291930"/>
<rect x="74.05" y="505.24" width="12.16" height="4.36" fill="#28192e"/>
<rect x="74.05" y="508.60" width="12.16" height="7.72" fill="#27182d"/>
<rect x="74.05" y="515.31" width="12.16" height="7.72" fill="#26172b"/>
<rect x="74.05" y="522.03" width="12.16" height="4.36" fill="#1e111f"/>
<rect x="74.05" y="525.39" width="12.16" height="7.72" fill="#1d111d"/>
<rect x="74.05" y="532.10" width="12.16" height="11.07" fill="#1c101c"/>
<rect x="74.05" y="542.18" width="12.16" height="7.72" fill="#1b0f1a"/>
<rect x="74.05" y="548.89" width="12.16" height="7.72" fill="#1a0e19"/>
<rect x="74.05" y="555.61" width="12.16" height="7.72" fill="#190e18"/>
<rect x="74.05" y="562.32" width="12.16" height="7.72" fill="#180d16"/>
<rect x="74.05" y="569.04" width="12.16" height="7.72" fill="#170c15"/>
<rect x="74.05" y="575.76" width="12.16" height="11.07" fill="#160b13"/>
<rect x="74.05" y="585.83" width="12.16" height="7.72" fill="#150a12"/>
<rect x="74.05" y="592.55" width="12.16" height="7.72" fill="#140910"/>
<rect x="74.05" y="599.26" width="12.16" height="7.72" fill="#13090f"/>
<rect x="74.05" y="605.98" width="12.16" height="7.72" fill="#12080d"/>
<rect x="74.05" y="612.69" width="12.16" height="7.72" fill="#11070c"/>
<rect x="74.05" y="619.41" width="12.16" height="7.72" fill="#10060a"/>
<rect x="74.05" y="626.13" width="12.16" height="10.07" fill="#0f0609"/>
<rect x="85.21" y="428.00" width="12.16" height="14.43" fill="#60ceac"/>
<rect x="85.21" y="441.43" width="12.16" height="24.51" fill="#4dc4ad"/>
<rect x="85.21" y="464.94" width="12.16" height="14.43" fill="#359caa"/>
<rect x="85.21" y="478.37" width="12.16" height="4.36" fill="#366ca0"/>
<rect x="85.21" y="481.73" width="12.16" height="4.36" fill="#366a9f"/>
<rect x="85.21" y="485.09" width="12.16" height="4.36" fill="#37689f"/>
<rect x="85.21" y="488.45" width="12.16" height="4.36" fill="#37659e"/>
<rect x="85.21" y="491.80" width="12.16" height="4.36" fill="#38639d"/>
<rect x="85.21" y="495.16" width="12.16" height="4.36" fill="#40468a"/>
<rect x="85.21" y="498.52" width="12.16" height="4.36" fill="#414488"/>
<rect x="85.21" y="501.88" width="12.16" height="4.36" fill="#414387"/>
<rect x="85.21" y="505.24" width="12.16" height="4.36" fill="#414285"/>
<rect x="85.21" y="508.60" width="12.16" height="4.36" fill="#414184"/>
<rect x="85.21" y="511.95" width="12.16" height="4.36" fill="#413f80"/>
<rect x="85.21" y="515.31" width="12.16" height="7.72" fill="#342447"/>
<rect x="85.21" y="522.03" width="12.16" height="7.72" fill="#332345"/>
<rect x="85.21" y="528.74" width="12.16" height="7.72" fill="#322243"/>
<rect x="85.21" y="535.46" width="12.16" height="7.72" fill="#312142"/>
<rect x="85.21" y="542.18" width="12.16" height="7.72" fill="#312140"/>
<rect x="85.21" y="548.89" width="12.16" height="7.72" fill="#30203e"/>
<rect x="85.21" y="555.61" width="12.16" height="7.72" fill="#2f1f3d"/>
<rect x="85.21" y="562.32" width="12.16" height="7.72" fill="#2e1e3b"/>
<rect x="85.21" y="569.04" width="12.16" height="7.72" fill="#2e1e39"/>
<rect x="85.21" y="575.76" width="12.16" height="7.72" fill="#2d1d38"/>
<rect x="85.21" y="582.47" width="12.16" height="7.72" fill="#2c1c36"/>
<rect x="85.21" y="589.19" width="12.16" height="7.72" fill="#2b1c35"/>
<rect x="85.21" y="595.90" width="12.16" height="7.72" fill="#2a1b33"/>
<rect x="85.21" y="602.62" width="12.16" height="7.72" fill="#291a31"/>
<rect x="85.21" y="609.34" width="12.16" height="7.72" fill="#291930"/>
<rect x="85.21" y="616.05" width="12.16" height="7.72" fill="#28192e"/>
<rect x="85.21" y="622.77" width="12.16" height="7.72" fill="#27182d"/>
<rect x="85.21" y="629.48" width="12.16" height="6.72" fill="#26172b"/>
<rect x="96.37" y="454.87" width="12.16" height="24.51" fill="#85d9b1"/>
<rect x="96.37" y="478.37" width="12.16" height="7.72" fill="#60ceac"/>
<rect x="96.37" y="485.09" width="12.16" height="14.43" fill="#359caa"/>
<rect x="96.37" y="498.52" width="12.16" height="14.43" fill="#3480a4"/>
<rect x="96.37" y="511.95" width="12.16" height="31.22" fill="#36699f"/>
<rect x="96.37" y="542.18" width="12.16" height="7.72" fill="#40488d"/>
<rect x="96.37" y="548.89" width="12.16" height="11.07" fill="#40478b"/>
<rect x="96.37" y="558.97" width="12.16" height="11.07" fill="#40468a"/>
<rect x="96.37" y="569.04" width="12.16" height="7.72" fill="#414488"/>
<rect x="96.37" y="575.76" width="12.16" height="11.07" fill="#414387"/>
<rect x="96.37" y="585.83" width="12.16" height="7.72" fill="#414285"/>
<rect x="96.37" y="592.55" width="12.16" height="11.07" fill="#414184"/>
<rect x="96.37" y="602.62" width="12.16" height="11.07" fill="#414082"/>
<rect x="96.37" y="612.69" width="12.16" height="7.72" fill="#413f80"/>
<rect x="96.37" y="619.41" width="12.16" height="11.07" fill="#413e7f"/>
<rect x="96.37" y="629.48" width="12.16" height="6.72" fill="#413e7d"/>
<rect x="107.53" y="498.52" width="12.16" height="11.07" fill="#60ceac"/>
<rect x="107.53" y="508.60" width="12.16" height="14.43" fill="#35a0ab"/>
<rect x="107.53" y="522.03" width="12.16" height="7.72" fill="#3488a6"/>
<rect x="107.53" y="528.74" width="12.16" height="7.72" fill="#3487a6"/>
<rect x="107.53" y="535.46" width="12.16" height="7.72" fill="#3486a5"/>
<rect x="107.53" y="542.18" width="12.16" height="4.36" fill="#3485a5"/>
<rect x="107.53" y="545.53" width="12.16" height="7.72" fill="#3484a5"/>
<rect x="107.53" y="552.25" width="12.16" height="7.72" fill="#3483a5"/>
<rect x="107.53" y="558.97" width="12.16" height="7.72" fill="#3482a4"/>
<rect x="107.53" y="565.68" width="12.16" height="7.72" fill="#3480a4"/>
<rect x="107.53" y="572.40" width="12.16" height="7.72" fill="#347fa4"/>
<rect x="107.53" y="579.11" width="12.16" height="7.72" fill="#357ea4"/>
<rect x="107.53" y="585.83" width="12.16" height="4.36" fill="#357da3"/>
<rect x="107.53" y="589.19" width="12.16" height="7.72" fill="#357ca3"/>
<rect x="107.53" y="595.90" width="12.16" height="7.72" fill="#357ba3"/>
<rect x="107.53" y="602.62" width="12.16" height="7.72" fill="#357aa2"/>
<rect x="107.53" y="609.34" width="12.16" height="7.72" fill="#3579a2"/>
<rect x="107.53" y="616.05" width="12.16" height="7.72" fill="#3578a2"/>
<rect x="107.53" y="622.77" width="12.16" height="4.36" fill="#3576a2"/>
<rect x="107.53" y="626.13" width="12.16" height="7.72" fill="#3575a1"/>
<rect x="107.53" y="632.84" width="12.16" height="3.36" fill="#3574a1"/>
<rect x="118.69" y="515.31" width="12.16" height="7.72" fill="#60ceac"/>
<rect x="118.69" y="522.03" width="12.16" height="14.43" fill="#42b9ad"/>
<rect x="118.69" y="535.46" width="12.16" height="4.36" fill="#35a0ab"/>
<rect x="118.69" y="538.82" width="12.16" height="4.36" fill="#359fab"/>
<rect x="118.69" y="542.18" width="12.16" height="7.72" fill="#359eaa"/>
<rect x="118.69" y="548.89" width="12.16" height="7.72" fill="#359caa"/>
<rect x="118.69" y="555.61" width="12.16" height="4.36" fill="#359baa"/>
<rect x="118.69" y="558.97" width="12.16" height="7.72" fill="#349aaa"/>
<rect x="118.69" y="565.68" width="12.16" height="4.36" fill="#3499aa"/>
<rect x="118.69" y="569.04" width="12.16" height="7.72" fill="#3498a9"/>
<rect x="118.69" y="575.76" width="12.16" height="7.72" fill="#3497a9"/>
<rect x="118.69" y="582.47" width="12.16" height="4.36" fill="#3496a9"/>
<rect x="118.69" y="585.83" width="12.16" height="7.72" fill="#3495a9"/>
<rect x="118.69" y="592.55" width="12.16" height="7.72" fill="#3493a8"/>
<rect x="118.69" y="599.26" width="12.16" height="4.36" fill="#3492a8"/>
<rect x="118.69" y="602.62" width="12.16" height="7.72" fill="#3491a8"/>
<rect x="118.69" y="609.34" width="12.16" height="4.36" fill="#3490a8"/>
<rect x="118.69" y="612.69" width="12.16" height="7.72" fill="#348fa7"/>
<rect x="118.69" y="619.41" width="12.16" height="7.72" fill="#348ea7"/>
<rect x="118.69" y="626.13" width="12.16" height="4.36" fill="#348da7"/>
<rect x="118.69" y="629.48" width="12.16" height="6.72" fill="#348ca7"/>
<rect x="129.85" y="528.74" width="12.16" height="7.72" fill="#60ceac"/>
<rect x="129.85" y="535.46" width="12.16" height="14.43" fill="#42b9ad"/>
<rect x="129.85" y="548.89" width="12.16" height="7.72" fill="#37a8ac"/>
<rect x="129.85" y="555.61" width="12.16" height="4.36" fill="#37a6ac"/>
<rect x="129.85" y="558.97" width="12.16" height="7.72" fill="#37a5ac"/>
<rect x="129.85" y="565.68" width="12.16" height="7.72" fill="#36a4ab"/>
<rect x="129.85" y="572.40" width="12.16" height="4.36" fill="#36a3ab"/>
<rect x="129.85" y="575.76" width="12.16" height="7.72" fill="#36a2ab"/>
<rect x="129.85" y="582.47" width="12.16" height="7.72" fill="#35a1ab"/>
<rect x="129.85" y="589.19" width="12.16" height="4.36" fill="#35a0ab"/>
<rect x="129.85" y="592.55" width="12.16" height="7.72" fill="#359fab"/>
<rect x="129.85" y="599.26" width="12.16" height="7.72" fill="#359eaa"/>
<rect x="129.85" y="605.98" width="12.16" height="4.36" fill="#359caa"/>
<rect x="129.85" y="609.34" width="12.16" height="7.72" fill="#359baa"/>
<rect x="129.85" y="616.05" width="12.16" height="4.36" fill="#349aaa"/>
<rect x="129.85" y="619.41" width="12.16" height="7.72" fill="#3499aa"/>
<rect x="129.85" y="626.13" width="12.16" height="7.72" fill="#3498a9"/>
<rect x="129.85" y="632.84" width="12.16" height="3.36" fill="#3497a9"/>
<rect x="141.01" y="538.82" width="12.16" height="11.07" fill="#6dd3ad"/>
<rect x="141.01" y="548.89" width="12.16" height="14.43" fill="#4dc4ad"/>
<rect x="141.01" y="562.32" width="12.16" height="4.36" fill="#3fb6ad"/>
<rect x="141.01" y="565.68" width="12.16" height="4.36" fill="#3fb5ad"/>
<rect x="141.01" y="569.04" width="12.16" height="4.36" fill="#3eb4ad"/>
<rect x="141.01" y="572.40" width="12.16" height="7.72" fill="#3db3ad"/>
<rect x="141.01" y="579.11" width="12.16" height="4.36" fill="#3cb2ad"/>
<rect x="141.01" y="582.47" width="12.16" height="4.36" fill="#3cb1ad"/>
<rect x="141.01" y="585.83" width="12.16" height="4.36" fill="#3bafad"/>
<rect x="141.01" y="589.19" width="12.16" height="4.36" fill="#3aaead"/>
<rect x="141.01" y="592.55" width="12.16" height="7.72" fill="#3aadac"/>
<rect x="141.01" y="599.26" width="12.16" height="4.36" fill="#39acac"/>
<rect x="141.01" y="602.62" width="12.16" height="4.36" fill="#39abac"/>
<rect x="141.01" y="605.98" width="12.16" height="4.36" fill="#38aaac"/>
<rect x="141.01" y="609.34" width="12.16" height="4.36" fill="#38a9ac"/>
<rect x="141.01" y="612.69" width="12.16" height="4.36" fill="#37a8ac"/>
<rect x="141.01" y="616.05" width="12.16" height="7.72" fill="#37a6ac"/>
<rect x="141.01" y="622.77" width="12.16" height="4.36" fill="#37a5ac"/>
<rect x="141.01" y="626.13" width="12.16" height="4.36" fill="#36a4ab"/>
<rect x="141.01" y="629.48" width="12.16" height="4.36" fill="#36a3ab"/>
<rect x="141.01" y="632.84" width="12.16" height="3.36" fill="#36a2ab"/>
<rect x="152.17" y="548.89" width="12.16" height="14.43" fill="#7cd6af"/>
<rect x="152.17" y="562.32" width="12.16" height="4.36" fill="#55caad"/>
<rect x="152.17" y="565.68" width="12.16" height="4.36" fill="#53c9ad"/>
<rect x="152.17" y="569.04" width="12.16" height="4.36" fill="#52c7ad"/>
<rect x="152.17" y="572.40" width="12.16" height="4.36" fill="#50c6ad"/>
<rect x="152.17" y="575.76" width="12.16" height="4.36" fill="#4fc5ad"/>
<rect x="152.17" y="579.11" width="12.16" height="4.36" fill="#4dc4ad"/>
<rect x="152.17" y="582.47" width="12.16" height="4.36" fill="#4cc3ad"/>
<rect x="152.17" y="585.83" width="12.16" height="4.36" fill="#4bc2ad"/>
<rect x="152.17" y="589.19" width="12.16" height="4.36" fill="#49c1ad"/>
<rect x="152.17" y="592.55" width="12.16" height="4.36" fill="#48c0ad"/>
<rect x="152.17" y="595.90" width="12.16" height="4.36" fill="#47bfad"/>
<rect x="152.17" y="599.26" width="12.16" height="4.36" fill="#46bead"/>
<rect x="152.17" y="602.62" width="12.16" height="4.36" fill="#45bdad"/>
<rect x="152.17" y="605.98" width="12.16" height="4.36" fill="#44bcad"/>
<rect x="152.17" y="609.34" width="12.16" height="4.36" fill="#43baad"/>
<rect x="152.17" y="612.69" width="12.16" height="4.36" fill="#42b9ad"/>
<rect x="152.17" y="616.05" width="12.16" height="4.36" fill="#41b8ad"/>
<rect x="152.17" y="619.41" width="12.16" height="4.36" fill="#40b7ad"/>
<rect x="152.17" y="622.77" width="12.16" height="4.36" fill="#3fb6ad"/>
<rect x="152.17" y="626.13" width="12.16" height="4.36" fill="#3fb5ad"/>
<rect x="152.17" y="629.48" width="12.16" height="4.36" fill="#3eb4ad"/>
<rect x="152.17" y="632.84" width="12.16" height="3.36" fill="#3db3ad"/>
<rect x="163.33" y="558.97" width="12.16" height="11.07" fill="#8bdab2"/>
<rect x="163.33" y="569.04" width="12.16" height="4.36" fill="#60ceac"/>
<rect x="163.33" y="572.40" width="12.16" height="4.36" fill="#5ecdad"/>
<rect x="163.33" y="575.76" width="12.16" height="7.72" fill="#5bcdad"/>
<rect x="163.33" y="582.47" width="12.16" height="4.36" fill="#59ccad"/>
<rect x="163.33" y="585.83" width="12.16" height="4.36" fill="#57cbad"/>
<rect x="163.33" y="589.19" width="12.16" height="4.36" fill="#55caad"/>
<rect x="163.33" y="592.55" width="12.16" height="7.72" fill="#53c9ad"/>
<rect x="163.33" y="599.26" width="12.16" height="4.36" fill="#52c7ad"/>
<rect x="163.33" y="602.62" width="12.16" height="4.36" fill="#50c6ad"/>
<rect x="163.33" y="605.98" width="12.16" height="4.36" fill="#4fc5ad"/>
<rect x="163.33" y="609.34" width="12.16" height="7.72" fill="#4dc4ad"/>
<rect x="163.33" y="616.05" width="12.16" height="4.36" fill="#4cc3ad"/>
<rect x="163.33" y="619.41" width="12.16" height="4.36" fill="#4bc2ad"/>
<rect x="163.33" y="622.77" width="12.16" height="4.36" fill="#49c1ad"/>
<rect x="163.33" y="626.13" width="12.16" height="7.72" fill="#48c0ad"/>
<rect x="163.33" y="632.84" width="12.16" height="3.36" fill="#47bfad"/>
<rect x="174.49" y="569.04" width="12.16" height="4.36" fill="#99ddb6"/>
<rect x="174.49" y="572.40" width="12.16" height="4.36" fill="#96ddb5"/>
<rect x="174.49" y="575.76" width="12.16" height="4.36" fill="#94dcb5"/>
<rect x="174.49" y="579.11" width="12.16" height="4.36" fill="#8edbb3"/>
<rect x="174.49" y="582.47" width="12.16" height="4.36" fill="#8bdab2"/>
<rect x="174.49" y="585.83" width="12.16" height="4.36" fill="#85d9b1"/>
<rect x="174.49" y="589.19" width="12.16" height="4.36" fill="#82d8b0"/>
<rect x="174.49" y="592.55" width="12.16" height="4.36" fill="#7cd6af"/>
<rect x="174.49" y="595.90" width="12.16" height="4.36" fill="#79d6ae"/>
<rect x="174.49" y="599.26" width="12.16" height="4.36" fill="#76d5ae"/>
<rect x="174.49" y="602.62" width="12.16" height="4.36" fill="#70d4ad"/>
<rect x="174.49" y="605.98" width="12.16" height="4.36" fill="#6dd3ad"/>
<rect x="174.49" y="609.34" width="12.16" height="4.36" fill="#68d1ad"/>
<rect x="174.49" y="612.69" width="12.16" height="4.36" fill="#65d0ad"/>
<rect x="174.49" y="616.05" width="12.16" height="4.36" fill="#60ceac"/>
<rect x="174.49" y="619.41" width="12.16" height="4.36" fill="#5ecdad"/>
<rect x="174.49" y="622.77" width="12.16" height="4.36" fill="#5bcdad"/>
<rect x="174.49" y="626.13" width="12.16" height="4.36" fill="#57cbad"/>
<rect x="174.49" y="629.48" width="12.16" height="4.36" fill="#55caad"/>
<rect x="174.49" y="632.84" width="12.16" height="3.36" fill="#52c7ad"/>
<rect x="185.66" y="585.83" width="12.16" height="4.36" fill="#a9e1bd"/>
<rect x="185.66" y="589.19" width="12.16" height="4.36" fill="#a4e0bb"/>
<rect x="185.66" y="592.55" width="12.16" height="4.36" fill="#9edfb8"/>
<rect x="185.66" y="595.90" width="12.16" height="4.36" fill="#99ddb6"/>
<rect x="185.66" y="599.26" width="12.16" height="4.36" fill="#94dcb5"/>
<rect x="185.66" y="602.62" width="12.16" height="4.36" fill="#8edbb3"/>
<rect x="185.66" y="605.98" width="12.16" height="4.36" fill="#8bdab2"/>
<rect x="185.66" y="609.34" width="12.16" height="4.36" fill="#85d9b1"/>
<rect x="185.66" y="612.69" width="12.16" height="4.36" fill="#7fd7af"/>
<rect x="185.66" y="616.05" width="12.16" height="4.36" fill="#79d6ae"/>
<rect x="185.66" y="619.41" width="12.16" height="4.36" fill="#73d4ad"/>
<rect x="185.66" y="622.77" width="12.16" height="4.36" fill="#6dd3ad"/>
<rect x="185.66" y="626.13" width="12.16" height="4.36" fill="#6ad2ad"/>
<rect x="185.66" y="629.48" width="12.16" height="4.36" fill="#65d0ad"/>
<rect x="185.66" y="632.84" width="12.16" height="3.36" fill="#60ceac"/>
<rect x="196.82" y="589.19" width="12.16" height="4.36" fill="#b9e6c7"/>
<rect x="196.82" y="592.55" width="12.16" height="4.36" fill="#b5e5c4"/>
<rect x="196.82" y="595.90" width="12.16" height="4.36" fill="#b0e4c1"/>
<rect x="196.82" y="599.26" width="12.16" height="4.36" fill="#abe2be"/>
<rect x="196.82" y="602.62" width="12.16" height="4.36" fill="#a6e1bc"/>
<rect x="196.82" y="605.98" width="12.16" height="4.36" fill="#a1dfb9"/>
<rect x="196.82" y="609.34" width="12.16" height="4.36" fill="#9cdeb7"/>
<rect x="196.82" y="612.69" width="12.16" height="4.36" fill="#96ddb5"/>
<rect x="196.82" y="616.05" width="12.16" height="4.36" fill="#91dbb4"/>
<rect x="196.82" y="619.41" width="12.16" height="4.36" fill="#8bdab2"/>
<rect x="196.82" y="622.77" width="12.16" height="4.36" fill="#88d9b1"/>
<rect x="196.82" y="626.13" width="12.16" height="4.36" fill="#82d8b0"/>
<rect x="196.82" y="629.48" width="12.16" height="4.36" fill="#7cd6af"/>
<rect x="196.82" y="632.84" width="12.16" height="3.36" fill="#76d5ae"/>
<rect x="207.98" y="595.90" width="12.16" height="4.36" fill="#c0e9cc"/>
<rect x="207.98" y="599.26" width="12.16" height="4.36" fill="#bbe7c8"/>
<rect x="207.98" y="602.62" width="12.16" height="4.36" fill="#b7e6c5"/>
<rect x="207.98" y="605.98" width="12.16" height="4.36" fill="#b2e4c2"/>
<rect x="207.98" y="609.34" width="12.16" height="4.36" fill="#aee3c0"/>
<rect x="207.98" y="612.69" width="12.16" height="4.36" fill="#a9e1bd"/>
<rect x="207.98" y="616.05" width="12.16" height="4.36" fill="#a4e0bb"/>
<rect x="207.98" y="619.41" width="12.16" height="4.36" fill="#9edfb8"/>
<rect x="207.98" y="622.77" width="12.16" height="4.36" fill="#99ddb6"/>
<rect x="207.98" y="626.13" width="12.16" height="4.36" fill="#94dcb5"/>
<rect x="207.98" y="629.48" width="12.16" height="4.36" fill="#8edbb3"/>
<rect x="207.98" y="632.84" width="12.16" height="3.36" fill="#88d9b1"/>
<rect x="219.14" y="602.62" width="12.16" height="4.36" fill="#c4eacf"/>
<rect x="219.14" y="605.98" width="12.16" height="4.36" fill="#c0e9cc"/>
<rect x="219.14" y="609.34" width="12.16" height="4.36" fill="#bbe7c8"/>
<rect x="219.14" y="612.69" width="12.16" height="4.36" fill="#b7e6c5"/>
<rect x="219.14" y="616.05" width="12.16" height="4.36" fill="#b2e4c2"/>
<rect x="219.14" y="619.41" width="12.16" height="4.36" fill="#aee3c0"/>
<rect x="219.14" y="622.77" width="12.16" height="4.36" fill="#a9e1bd"/>
<rect x="219.14" y="626.13" width="12.16" height="4.36" fill="#a4e0bb"/>
<rect x="219.14" y="629.48" width="12.16" height="4.36" fill="#9edfb8"/>
<rect x="219.14" y="632.84" width="12.16" height="3.36" fill="#99ddb6"/>
<rect x="230.30" y="605.98" width="12.16" height="4.36" fill="#caedd4"/>
<rect x="230.30" y="609.34" width="12.16" height="4.36" fill="#c6ebd1"/>
<rect x="230.30" y="612.69" width="12.16" height="4.36" fill="#c2e9cd"/>
<rect x="230.30" y="616.05" width="12.16" height="4.36" fill="#bee8ca"/>
<rect x="230.30" y="619.41" width="12.16" height="4.36" fill="#b9e6c7"/>
<rect x="230.30" y="622.77" width="12.16" height="4.36" fill="#b5e5c4"/>
<rect x="230.30" y="626.13" width="12.16" height="4.36" fill="#b0e4c1"/>
<rect x="230.30" y="629.48" width="12.16" height="4.36" fill="#abe2be"/>
<rect x="230.30" y="632.84" width="12.16" height="3.36" fill="#a9e1bd"/>
<rect x="241.46" y="612.69" width="12.16" height="4.36" fill="#ceeed7"/>
<rect x="241.46" y="616.05" width="12.16" height="4.36" fill="#caedd4"/>
<rect x="241.46" y="619.41" width="12.16" height="4.36" fill="#c6ebd1"/>
<rect x="241.46" y="622.77" width="12.16" height="4.36" fill="#c0e9cc"/>
<rect x="241.46" y="626.13" width="12.16" height="4.36" fill="#bbe7c8"/>
<rect x="241.46" y="629.48" width="12.16" height="4.36" fill="#b7e6c5"/>
<rect x="241.46" y="632.84" width="12.16" height="3.36" fill="#b2e4c2"/>
<rect x="252.62" y="619.41" width="12.16" height="4.36" fill="#d4f1dc"/>
<rect x="252.62" y="622.77" width="12.16" height="4.36" fill="#ceeed7"/>
<rect x="252.62" y="626.13" width="12.16" height="4.36" fill="#caedd4"/>
<rect x="252.62" y="629.48" width="12.16" height="4.36" fill="#c4eacf"/>
<rect x="252.62" y="632.84" width="12.16" height="3.36" fill="#c0e9cc"/>
<rect x="263.78" y="622.77" width="12.16" height="4.36" fill="#d8f2e0"/>
<rect x="263.78" y="626.13" width="12.16" height="4.36" fill="#d6f1de"/>
<rect x="263.78" y="629.48" width="12.16" height="4.36" fill="#d2f0db"/>
<rect x="263.78" y="632.84" width="12.16" height="3.36" fill="#ceeed7"/>
<rect x="274.94" y="629.48" width="12.16" height="4.36" fill="#def5e5"/>
<rect x="274.94" y="632.84" width="12.16" height="3.36" fill="#d8f2e0"/>
<polygon points="74.05,362.20 289.10,362.20 289.10,636.20 286.10,636.20 286.10,629.48 274.94,629.48 274.94,622.77 263.78,622.77 263.78,619.41 252.62,619.41 252.62,612.69 241.46,612.69 241.46,605.98 230.30,605.98 230.30,602.62 219.14,602.62 219.14,595.90 207.98,595.90 207.98,589.19 196.82,589.19 196.82,585.83 185.66,585.83 185.66,569.04 174.49,569.04 174.49,558.97 163.33,558.97 163.33,548.89 152.17,548.89 152.17,538.82 141.01,538.82 141.01,528.74 129.85,528.74 129.85,515.31 118.69,515.31 118.69,498.52 107.53,498.52 107.53,454.87 96.37,454.87 96.37,428.00 85.21,428.00 85.21,364.20 74.05,364.20" fill="#fff"/>
<rect x="74.05" y="364.20" width="212.05" height="272.00" fill="none" stroke="#1a1a1a" stroke-width="0.9"/>
<line x1="70.45" y1="634.52" x2="74.05" y2="634.52" stroke="#000" stroke-width="0.9"/>
<text x="66.85" y="638.97" font-size="15.8" text-anchor="end" textLength="9.79" lengthAdjust="spacingAndGlyphs">2</text>
<line x1="70.45" y1="600.94" x2="74.05" y2="600.94" stroke="#000" stroke-width="0.9"/>
<text x="66.85" y="605.39" font-size="15.8" text-anchor="end" textLength="19.59" lengthAdjust="spacingAndGlyphs">12</text>
<line x1="70.45" y1="567.36" x2="74.05" y2="567.36" stroke="#000" stroke-width="0.9"/>
<text x="66.85" y="571.81" font-size="15.8" text-anchor="end" textLength="19.59" lengthAdjust="spacingAndGlyphs">22</text>
<line x1="70.45" y1="533.78" x2="74.05" y2="533.78" stroke="#000" stroke-width="0.9"/>
<text x="66.85" y="538.23" font-size="15.8" text-anchor="end" textLength="19.59" lengthAdjust="spacingAndGlyphs">32</text>
<line x1="70.45" y1="500.20" x2="74.05" y2="500.20" stroke="#000" stroke-width="0.9"/>
<text x="66.85" y="504.65" font-size="15.8" text-anchor="end" textLength="19.59" lengthAdjust="spacingAndGlyphs">42</text>
<line x1="70.45" y1="466.62" x2="74.05" y2="466.62" stroke="#000" stroke-width="0.9"/>
<text x="66.85" y="471.07" font-size="15.8" text-anchor="end" textLength="19.59" lengthAdjust="spacingAndGlyphs">52</text>
<line x1="70.45" y1="433.04" x2="74.05" y2="433.04" stroke="#000" stroke-width="0.9"/>
<text x="66.85" y="437.49" font-size="15.8" text-anchor="end" textLength="19.59" lengthAdjust="spacingAndGlyphs">62</text>
<line x1="70.45" y1="399.46" x2="74.05" y2="399.46" stroke="#000" stroke-width="0.9"/>
<text x="66.85" y="403.91" font-size="15.8" text-anchor="end" textLength="19.59" lengthAdjust="spacingAndGlyphs">72</text>
<line x1="70.45" y1="365.88" x2="74.05" y2="365.88" stroke="#000" stroke-width="0.9"/>
<text x="66.85" y="370.33" font-size="15.8" text-anchor="end" textLength="19.59" lengthAdjust="spacingAndGlyphs">82</text>
<line x1="79.63" y1="636.20" x2="79.63" y2="639.80" stroke="#000" stroke-width="0.9"/>
<text x="79.63" y="656.05" font-size="15.8" text-anchor="middle" textLength="9.79" lengthAdjust="spacingAndGlyphs">1</text>
<line x1="101.95" y1="636.20" x2="101.95" y2="639.80" stroke="#000" stroke-width="0.9"/>
<text x="101.95" y="656.05" font-size="15.8" text-anchor="middle" textLength="9.79" lengthAdjust="spacingAndGlyphs">3</text>
<line x1="124.27" y1="636.20" x2="124.27" y2="639.80" stroke="#000" stroke-width="0.9"/>
<text x="124.27" y="656.05" font-size="15.8" text-anchor="middle" textLength="9.79" lengthAdjust="spacingAndGlyphs">5</text>
<line x1="146.59" y1="636.20" x2="146.59" y2="639.80" stroke="#000" stroke-width="0.9"/>
<text x="146.59" y="656.05" font-size="15.8" text-anchor="middle" textLength="9.79" lengthAdjust="spacingAndGlyphs">7</text>
<line x1="168.91" y1="636.20" x2="168.91" y2="639.80" stroke="#000" stroke-width="0.9"/>
<text x="168.91" y="656.05" font-size="15.8" text-anchor="middle" textLength="9.79" lengthAdjust="spacingAndGlyphs">9</text>
<line x1="191.24" y1="636.20" x2="191.24" y2="639.80" stroke="#000" stroke-width="0.9"/>
<text x="191.24" y="656.05" font-size="15.8" text-anchor="middle" textLength="19.59" lengthAdjust="spacingAndGlyphs">11</text>
<line x1="213.56" y1="636.20" x2="213.56" y2="639.80" stroke="#000" stroke-width="0.9"/>
<text x="213.56" y="656.05" font-size="15.8" text-anchor="middle" textLength="19.59" lengthAdjust="spacingAndGlyphs">13</text>
<line x1="235.88" y1="636.20" x2="235.88" y2="639.80" stroke="#000" stroke-width="0.9"/>
<text x="235.88" y="656.05" font-size="15.8" text-anchor="middle" textLength="19.59" lengthAdjust="spacingAndGlyphs">15</text>
<line x1="258.20" y1="636.20" x2="258.20" y2="639.80" stroke="#000" stroke-width="0.9"/>
<text x="258.20" y="656.05" font-size="15.8" text-anchor="middle" textLength="19.59" lengthAdjust="spacingAndGlyphs">17</text>
<line x1="280.52" y1="636.20" x2="280.52" y2="639.80" stroke="#000" stroke-width="0.9"/>
<text x="280.52" y="656.05" font-size="15.8" text-anchor="middle" textLength="19.59" lengthAdjust="spacingAndGlyphs">19</text>
<text x="180.38" y="676.00" font-size="20.0" text-anchor="middle" font-style="italic">k</text>
<text x="39.35" y="500.90" font-size="20.2" text-anchor="middle" font-style="italic" textLength="16.90" lengthAdjust="spacingAndGlyphs" transform="rotate(-90 39.35 500.90)">m</text>
<text x="32.00" y="364.40" font-size="19.8" font-weight="bold" stroke="#000" stroke-width="0.35">c</text>
<defs><linearGradient id="gc" x1="0" y1="0" x2="0" y2="1"><stop offset="0.0000" stop-color="#def5e5"/><stop offset="0.0312" stop-color="#ceeed7"/><stop offset="0.0625" stop-color="#bee8ca"/><stop offset="0.0938" stop-color="#abe2be"/><stop offset="0.1250" stop-color="#96ddb5"/><stop offset="0.1562" stop-color="#7fd7af"/><stop offset="0.1875" stop-color="#68d1ad"/><stop offset="0.2188" stop-color="#55caad"/><stop offset="0.2500" stop-color="#49c1ad"/><stop offset="0.2812" stop-color="#41b8ad"/><stop offset="0.3125" stop-color="#3bafad"/><stop offset="0.3438" stop-color="#37a6ac"/><stop offset="0.3750" stop-color="#359eaa"/><stop offset="0.4062" stop-color="#3495a9"/><stop offset="0.4375" stop-color="#348ca7"/><stop offset="0.4688" stop-color="#3483a5"/><stop offset="0.5000" stop-color="#357ba3"/><stop offset="0.5312" stop-color="#3572a1"/><stop offset="0.5625" stop-color="#36699f"/><stop offset="0.5938" stop-color="#385f9c"/><stop offset="0.6250" stop-color="#3b5698"/><stop offset="0.6562" stop-color="#3f4c92"/><stop offset="0.6875" stop-color="#414387"/><stop offset="0.7188" stop-color="#403c79"/><stop offset="0.7500" stop-color="#3e356b"/><stop offset="0.7812" stop-color="#3b2e5d"/><stop offset="0.8125" stop-color="#37284f"/><stop offset="0.8438" stop-color="#312142"/><stop offset="0.8750" stop-color="#2b1c35"/><stop offset="0.9062" stop-color="#241628"/><stop offset="0.9375" stop-color="#1c101c"/><stop offset="0.9688" stop-color="#140910"/><stop offset="1.0000" stop-color="#0b0405"/></linearGradient></defs>
<rect x="299.20" y="625.30" width="12.60" height="2.00" fill="#8c8c8c"/>
<rect x="299.20" y="373.30" width="12.60" height="252.70" fill="url(#gc)"/>
<rect x="299.20" y="373.30" width="12.60" height="254.00" fill="none" stroke="#333" stroke-width="1.0"/>
<line x1="311.80" y1="626.15" x2="315.40" y2="626.15" stroke="#000" stroke-width="0.9"/>
<text x="318.80" y="632.95" font-size="15.8" textLength="44.07" lengthAdjust="spacingAndGlyphs">0.675</text>
<line x1="311.80" y1="593.40" x2="315.40" y2="593.40" stroke="#000" stroke-width="0.9"/>
<text x="318.80" y="600.20" font-size="15.8" textLength="44.07" lengthAdjust="spacingAndGlyphs">0.700</text>
<line x1="311.80" y1="560.65" x2="315.40" y2="560.65" stroke="#000" stroke-width="0.9"/>
<text x="318.80" y="567.45" font-size="15.8" textLength="44.07" lengthAdjust="spacingAndGlyphs">0.725</text>
<line x1="311.80" y1="527.90" x2="315.40" y2="527.90" stroke="#000" stroke-width="0.9"/>
<text x="318.80" y="534.70" font-size="15.8" textLength="44.07" lengthAdjust="spacingAndGlyphs">0.750</text>
<line x1="311.80" y1="495.15" x2="315.40" y2="495.15" stroke="#000" stroke-width="0.9"/>
<text x="318.80" y="501.95" font-size="15.8" textLength="44.07" lengthAdjust="spacingAndGlyphs">0.775</text>
<line x1="311.80" y1="462.40" x2="315.40" y2="462.40" stroke="#000" stroke-width="0.9"/>
<text x="318.80" y="469.20" font-size="15.8" textLength="44.07" lengthAdjust="spacingAndGlyphs">0.800</text>
<line x1="311.80" y1="429.65" x2="315.40" y2="429.65" stroke="#000" stroke-width="0.9"/>
<text x="318.80" y="436.45" font-size="15.8" textLength="44.07" lengthAdjust="spacingAndGlyphs">0.825</text>
<line x1="311.80" y1="396.90" x2="315.40" y2="396.90" stroke="#000" stroke-width="0.9"/>
<text x="318.80" y="403.70" font-size="15.8" textLength="44.07" lengthAdjust="spacingAndGlyphs">0.850</text>
<g transform="translate(294.20 363.30)">
<path d="M3.70,-14.30 L0.30,-6.05 L3.70,2.20" fill="none" stroke="#000" stroke-width="1.35" stroke-linejoin="miter"/>
<text x="6.70" y="0.00" font-size="17.5" font-style="italic" textLength="10.00" lengthAdjust="spacingAndGlyphs">τ</text>
<path d="M23.60,-13.90 L16.80,1.90" fill="none" stroke="#000" stroke-width="1.35"/>
<text x="23.90" y="0.00" font-size="19.0" font-style="italic" textLength="11.80" lengthAdjust="spacingAndGlyphs">T</text>
<path d="M36.40,-14.30 L39.80,-6.05 L36.40,2.20" fill="none" stroke="#000" stroke-width="1.35" stroke-linejoin="miter"/>
</g>
<rect x="153.50" y="372.40" width="122.20" height="125.60" fill="#fff" stroke="#000" stroke-width="0.9"/>
<line x1="183.50" y1="498.00" x2="183.50" y2="501.60" stroke="#000" stroke-width="0.9"/>
<text x="183.50" y="516.60" font-size="15.8" text-anchor="middle" textLength="9.79" lengthAdjust="spacingAndGlyphs">5</text>
<line x1="214.35" y1="498.00" x2="214.35" y2="501.60" stroke="#000" stroke-width="0.9"/>
<text x="214.35" y="516.60" font-size="15.8" text-anchor="middle" textLength="19.59" lengthAdjust="spacingAndGlyphs">10</text>
<line x1="245.20" y1="498.00" x2="245.20" y2="501.60" stroke="#000" stroke-width="0.9"/>
<text x="245.20" y="516.60" font-size="15.8" text-anchor="middle" textLength="19.59" lengthAdjust="spacingAndGlyphs">15</text>
<line x1="149.90" y1="477.00" x2="153.50" y2="477.00" stroke="#000" stroke-width="0.9"/>
<text x="146.50" y="482.90" font-size="15.8" text-anchor="end" textLength="24.49" lengthAdjust="spacingAndGlyphs">0.7</text>
<line x1="149.90" y1="417.30" x2="153.50" y2="417.30" stroke="#000" stroke-width="0.9"/>
<text x="146.50" y="423.20" font-size="15.8" text-anchor="end" textLength="24.49" lengthAdjust="spacingAndGlyphs">0.8</text>
<text x="214.60" y="535.50" font-size="18.0" text-anchor="middle" font-style="italic">k</text>
<g transform="translate(114.30 435.15) rotate(-90) scale(0.9) translate(-20.05 0)">
<path d="M3.70,-14.30 L0.30,-6.05 L3.70,2.20" fill="none" stroke="#000" stroke-width="1.35" stroke-linejoin="miter"/>
<text x="6.70" y="0.00" font-size="17.5" font-style="italic" textLength="10.00" lengthAdjust="spacingAndGlyphs">τ</text>
<path d="M23.60,-13.90 L16.80,1.90" fill="none" stroke="#000" stroke-width="1.35"/>
<text x="23.90" y="0.00" font-size="19.0" font-style="italic" textLength="11.80" lengthAdjust="spacingAndGlyphs">T</text>
<path d="M36.40,-14.30 L39.80,-6.05 L36.40,2.20" fill="none" stroke="#000" stroke-width="1.35" stroke-linejoin="miter"/>
</g>
<circle cx="158.82" cy="492.52" r="3.3" fill="#1f77b4"/>
<circle cx="164.99" cy="480.70" r="3.3" fill="#1f77b4"/>
<circle cx="171.16" cy="458.61" r="3.3" fill="#1f77b4"/>
<circle cx="177.33" cy="443.57" r="3.3" fill="#1f77b4"/>
<circle cx="183.50" cy="432.40" r="3.3" fill="#1f77b4"/>
<circle cx="189.67" cy="424.58" r="3.3" fill="#1f77b4"/>
<circle cx="195.84" cy="417.30" r="3.3" fill="#1f77b4"/>
<circle cx="202.01" cy="412.29" r="3.3" fill="#1f77b4"/>
<circle cx="208.18" cy="407.27" r="3.3" fill="#1f77b4"/>
<circle cx="214.35" cy="402.67" r="3.3" fill="#1f77b4"/>
<circle cx="220.52" cy="399.69" r="3.3" fill="#1f77b4"/>
<circle cx="226.69" cy="396.23" r="3.3" fill="#1f77b4"/>
<circle cx="232.86" cy="393.18" r="3.3" fill="#1f77b4"/>
<circle cx="239.03" cy="390.61" r="3.3" fill="#1f77b4"/>
<circle cx="245.20" cy="388.11" r="3.3" fill="#1f77b4"/>
<circle cx="251.37" cy="386.38" r="3.3" fill="#1f77b4"/>
<circle cx="257.54" cy="383.09" r="3.3" fill="#1f77b4"/>
<circle cx="263.71" cy="380.11" r="3.3" fill="#1f77b4"/>
<circle cx="269.88" cy="377.60" r="3.3" fill="#1f77b4"/>
<path d="M155.77,485.29L161.87,491.39M155.77,491.39L161.87,485.29" stroke="#ff7f0e" stroke-width="1.0" fill="none"/>
<path d="M161.94,473.17L168.04,479.27M161.94,479.27L168.04,473.17" stroke="#ff7f0e" stroke-width="1.0" fill="none"/>
<path d="M168.11,451.26L174.21,457.36M168.11,457.36L174.21,451.26" stroke="#ff7f0e" stroke-width="1.0" fill="none"/>
<path d="M174.28,435.44L180.38,441.54M174.28,441.54L180.38,435.44" stroke="#ff7f0e" stroke-width="1.0" fill="none"/>
<path d="M180.45,423.56L186.55,429.66M180.45,429.66L186.55,423.56" stroke="#ff7f0e" stroke-width="1.0" fill="none"/>
<path d="M186.62,416.04L192.72,422.14M186.62,422.14L192.72,416.04" stroke="#ff7f0e" stroke-width="1.0" fill="none"/>
<path d="M192.79,407.98L198.89,414.08M192.79,414.08L198.89,407.98" stroke="#ff7f0e" stroke-width="1.0" fill="none"/>
<path d="M198.96,402.13L205.06,408.23M198.96,408.23L205.06,402.13" stroke="#ff7f0e" stroke-width="1.0" fill="none"/>
<path d="M205.13,395.33L211.23,401.43M205.13,401.43L211.23,395.33" stroke="#ff7f0e" stroke-width="1.0" fill="none"/>
<path d="M211.30,391.33L217.40,397.43M211.30,397.43L217.40,391.33" stroke="#ff7f0e" stroke-width="1.0" fill="none"/>
<path d="M217.47,387.03L223.57,393.13M217.47,393.13L223.57,387.03" stroke="#ff7f0e" stroke-width="1.0" fill="none"/>
<path d="M223.64,381.24L229.74,387.34M223.64,387.34L229.74,381.24" stroke="#ff7f0e" stroke-width="1.0" fill="none"/>
<path d="M158.82,476.62L162.42,483.28L155.22,483.28Z" fill="#2ca02c"/>
<path d="M164.99,454.48L168.59,461.14L161.39,461.14Z" fill="#2ca02c"/>
<path d="M171.16,418.48L174.76,425.14L167.56,425.14Z" fill="#2ca02c"/>
<path d="M177.33,398.42L180.93,405.08L173.73,405.08Z" fill="#2ca02c"/>
<rect x="155.62" y="459.17" width="6.40" height="6.40" fill="#d62728"/>
<rect x="161.79" y="404.07" width="6.40" height="6.40" fill="#d62728"/>
<rect x="167.96" y="392.49" width="6.40" height="6.40" fill="#d62728"/>
<rect x="196.60" y="429.10" width="73.80" height="63.30" rx="2.2" ry="2.2" fill="#fff" fill-opacity="0.85" stroke="#d6d6d6" stroke-width="0.9"/>
<circle cx="211.20" cy="437.50" r="3.3" fill="#1f77b4"/>
<text x="229.10" y="440.40" font-size="10.9" font-style="italic" textLength="9.90" lengthAdjust="spacingAndGlyphs">m</text>
<rect x="241.70" y="435.55" width="7.10" height="0.95" fill="#000"/>
<rect x="241.70" y="437.95" width="7.10" height="0.95" fill="#000"/>
<text x="251.80" y="440.40" font-size="10.6" textLength="6.60" lengthAdjust="spacingAndGlyphs">2</text>
<path d="M208.15,449.25L214.25,455.35M208.15,455.35L214.25,449.25" stroke="#ff7f0e" stroke-width="1.0" fill="none"/>
<text x="229.10" y="455.20" font-size="10.9" font-style="italic" textLength="9.90" lengthAdjust="spacingAndGlyphs">m</text>
<rect x="241.70" y="450.35" width="7.10" height="0.95" fill="#000"/>
<rect x="241.70" y="452.75" width="7.10" height="0.95" fill="#000"/>
<text x="251.80" y="455.20" font-size="10.6" textLength="13.20" lengthAdjust="spacingAndGlyphs">15</text>
<path d="M211.20,464.10L214.80,470.76L207.60,470.76Z" fill="#2ca02c"/>
<text x="229.10" y="470.60" font-size="10.9" font-style="italic" textLength="9.90" lengthAdjust="spacingAndGlyphs">m</text>
<rect x="241.70" y="465.75" width="7.10" height="0.95" fill="#000"/>
<rect x="241.70" y="468.15" width="7.10" height="0.95" fill="#000"/>
<text x="251.80" y="470.60" font-size="10.6" textLength="13.20" lengthAdjust="spacingAndGlyphs">41</text>
<rect x="208.00" y="479.60" width="6.40" height="6.40" fill="#d62728"/>
<text x="229.10" y="485.70" font-size="10.9" font-style="italic" textLength="9.90" lengthAdjust="spacingAndGlyphs">m</text>
<rect x="241.70" y="480.85" width="7.10" height="0.95" fill="#000"/>
<rect x="241.70" y="483.25" width="7.10" height="0.95" fill="#000"/>
<text x="251.80" y="485.70" font-size="10.6" textLength="13.20" lengthAdjust="spacingAndGlyphs">54</text>
<rect x="412.35" y="364.20" width="12.16" height="7.72" fill="#f47d57"/>
<rect x="412.35" y="370.92" width="12.16" height="4.36" fill="#d2204c"/>
<rect x="412.35" y="374.27" width="12.16" height="4.36" fill="#c81951"/>
<rect x="412.35" y="377.63" width="12.16" height="4.36" fill="#bd1655"/>
<rect x="412.35" y="380.99" width="12.16" height="4.36" fill="#b21758"/>
<rect x="412.35" y="384.35" width="12.16" height="7.72" fill="#a6195a"/>
<rect x="412.35" y="391.06" width="12.16" height="4.36" fill="#a4195b"/>
<rect x="412.35" y="394.42" width="12.16" height="4.36" fill="#a3195b"/>
<rect x="412.35" y="397.78" width="12.16" height="4.36" fill="#a11a5b"/>
<rect x="412.35" y="401.14" width="12.16" height="4.36" fill="#921c5b"/>
<rect x="412.35" y="404.50" width="12.16" height="4.36" fill="#811e5a"/>
<rect x="412.35" y="407.85" width="12.16" height="4.36" fill="#821e5a"/>
<rect x="412.35" y="411.21" width="12.16" height="7.72" fill="#841e5a"/>
<rect x="412.35" y="417.93" width="12.16" height="4.36" fill="#6e1f57"/>
<rect x="412.35" y="421.29" width="12.16" height="4.36" fill="#641f54"/>
<rect x="412.35" y="424.64" width="12.16" height="4.36" fill="#5c1e51"/>
<rect x="412.35" y="428.00" width="12.16" height="4.36" fill="#531e4d"/>
<rect x="412.35" y="431.36" width="12.16" height="4.36" fill="#491d49"/>
<rect x="412.35" y="434.72" width="12.16" height="4.36" fill="#3f1b43"/>
<rect x="412.35" y="438.08" width="12.16" height="4.36" fill="#34193d"/>
<rect x="412.35" y="441.43" width="12.16" height="4.36" fill="#31183b"/>
<rect x="412.35" y="444.79" width="12.16" height="4.36" fill="#2e1739"/>
<rect x="412.35" y="448.15" width="12.16" height="4.36" fill="#2b1637"/>
<rect x="412.35" y="451.51" width="12.16" height="4.36" fill="#281535"/>
<rect x="412.35" y="454.87" width="12.16" height="4.36" fill="#251433"/>
<rect x="412.35" y="458.22" width="12.16" height="4.36" fill="#221331"/>
<rect x="412.35" y="461.58" width="12.16" height="4.36" fill="#20122e"/>
<rect x="412.35" y="464.94" width="12.16" height="4.36" fill="#1d112c"/>
<rect x="412.35" y="468.30" width="12.16" height="4.36" fill="#1a102a"/>
<rect x="412.35" y="471.66" width="12.16" height="4.36" fill="#170f28"/>
<rect x="412.35" y="475.01" width="12.16" height="4.36" fill="#160e27"/>
<rect x="412.35" y="478.37" width="12.16" height="4.36" fill="#130d25"/>
<rect x="412.35" y="481.73" width="12.16" height="4.36" fill="#100b23"/>
<rect x="412.35" y="485.09" width="12.16" height="4.36" fill="#0e0b22"/>
<rect x="412.35" y="488.45" width="12.16" height="4.36" fill="#0b0920"/>
<rect x="412.35" y="491.80" width="12.16" height="4.36" fill="#08081e"/>
<rect x="412.35" y="495.16" width="12.16" height="4.36" fill="#07071d"/>
<rect x="412.35" y="498.52" width="12.16" height="4.36" fill="#05061b"/>
<rect x="412.35" y="501.88" width="12.16" height="4.36" fill="#04051a"/>
<rect x="412.35" y="505.24" width="12.16" height="130.96" fill="#03051a"/>
<rect x="423.51" y="428.00" width="12.16" height="7.72" fill="#d2204c"/>
<rect x="423.51" y="434.72" width="12.16" height="14.43" fill="#e33641"/>
<rect x="423.51" y="448.15" width="12.16" height="11.07" fill="#bf1654"/>
<rect x="423.51" y="458.22" width="12.16" height="11.07" fill="#a11a5b"/>
<rect x="423.51" y="468.30" width="12.16" height="14.43" fill="#751f58"/>
<rect x="423.51" y="481.73" width="12.16" height="4.36" fill="#4c1d4b"/>
<rect x="423.51" y="485.09" width="12.16" height="4.36" fill="#461c48"/>
<rect x="423.51" y="488.45" width="12.16" height="4.36" fill="#421b45"/>
<rect x="423.51" y="491.80" width="12.16" height="4.36" fill="#3c1a42"/>
<rect x="423.51" y="495.16" width="12.16" height="4.36" fill="#37193f"/>
<rect x="423.51" y="498.52" width="12.16" height="4.36" fill="#31183b"/>
<rect x="423.51" y="501.88" width="12.16" height="4.36" fill="#271534"/>
<rect x="423.51" y="505.24" width="12.16" height="7.72" fill="#251433"/>
<rect x="423.51" y="511.95" width="12.16" height="7.72" fill="#241432"/>
<rect x="423.51" y="518.67" width="12.16" height="7.72" fill="#221331"/>
<rect x="423.51" y="525.39" width="12.16" height="7.72" fill="#211330"/>
<rect x="423.51" y="532.10" width="12.16" height="7.72" fill="#20122e"/>
<rect x="423.51" y="538.82" width="12.16" height="11.07" fill="#1e122d"/>
<rect x="423.51" y="548.89" width="12.16" height="7.72" fill="#1d112c"/>
<rect x="423.51" y="555.61" width="12.16" height="7.72" fill="#1b112b"/>
<rect x="423.51" y="562.32" width="12.16" height="7.72" fill="#1a102a"/>
<rect x="423.51" y="569.04" width="12.16" height="7.72" fill="#180f29"/>
<rect x="423.51" y="575.76" width="12.16" height="11.07" fill="#170f28"/>
<rect x="423.51" y="585.83" width="12.16" height="7.72" fill="#160e27"/>
<rect x="423.51" y="592.55" width="12.16" height="7.72" fill="#140e26"/>
<rect x="423.51" y="599.26" width="12.16" height="7.72" fill="#130d25"/>
<rect x="423.51" y="605.98" width="12.16" height="7.72" fill="#110c24"/>
<rect x="423.51" y="612.69" width="12.16" height="7.72" fill="#100b23"/>
<rect x="423.51" y="619.41" width="12.16" height="11.07" fill="#0e0b22"/>
<rect x="423.51" y="629.48" width="12.16" height="6.72" fill="#0d0a21"/>
<rect x="434.67" y="454.87" width="12.16" height="14.43" fill="#ef5840"/>
<rect x="434.67" y="468.30" width="12.16" height="7.72" fill="#e83f3f"/>
<rect x="434.67" y="475.01" width="12.16" height="14.43" fill="#bf1654"/>
<rect x="434.67" y="488.45" width="12.16" height="11.07" fill="#981b5b"/>
<rect x="434.67" y="498.52" width="12.16" height="11.07" fill="#6d1f56"/>
<rect x="434.67" y="508.60" width="12.16" height="17.79" fill="#401b44"/>
<rect x="434.67" y="525.39" width="12.16" height="4.36" fill="#2e1739"/>
<rect x="434.67" y="528.74" width="12.16" height="14.43" fill="#2d1738"/>
<rect x="434.67" y="542.18" width="12.16" height="14.43" fill="#2b1637"/>
<rect x="434.67" y="555.61" width="12.16" height="14.43" fill="#2a1636"/>
<rect x="434.67" y="569.04" width="12.16" height="17.79" fill="#281535"/>
<rect x="434.67" y="585.83" width="12.16" height="14.43" fill="#271534"/>
<rect x="434.67" y="599.26" width="12.16" height="14.43" fill="#251433"/>
<rect x="434.67" y="612.69" width="12.16" height="14.43" fill="#241432"/>
<rect x="434.67" y="626.13" width="12.16" height="10.07" fill="#221331"/>
<rect x="445.83" y="498.52" width="12.16" height="7.72" fill="#bf1654"/>
<rect x="445.83" y="505.24" width="12.16" height="7.72" fill="#af1759"/>
<rect x="445.83" y="511.95" width="12.16" height="11.07" fill="#821e5a"/>
<rect x="445.83" y="522.03" width="12.16" height="4.36" fill="#511e4d"/>
<rect x="445.83" y="525.39" width="12.16" height="7.72" fill="#501d4c"/>
<rect x="445.83" y="532.10" width="12.16" height="7.72" fill="#4e1d4b"/>
<rect x="445.83" y="538.82" width="12.16" height="7.72" fill="#4c1d4b"/>
<rect x="445.83" y="545.53" width="12.16" height="7.72" fill="#4b1d4a"/>
<rect x="445.83" y="552.25" width="12.16" height="7.72" fill="#491d49"/>
<rect x="445.83" y="558.97" width="12.16" height="11.07" fill="#481c48"/>
<rect x="445.83" y="569.04" width="12.16" height="7.72" fill="#461c48"/>
<rect x="445.83" y="575.76" width="12.16" height="7.72" fill="#451c47"/>
<rect x="445.83" y="582.47" width="12.16" height="7.72" fill="#431c46"/>
<rect x="445.83" y="589.19" width="12.16" height="7.72" fill="#421b45"/>
<rect x="445.83" y="595.90" width="12.16" height="7.72" fill="#401b44"/>
<rect x="445.83" y="602.62" width="12.16" height="7.72" fill="#3f1b43"/>
<rect x="445.83" y="609.34" width="12.16" height="11.07" fill="#3d1a42"/>
<rect x="445.83" y="619.41" width="12.16" height="7.72" fill="#3c1a42"/>
<rect x="445.83" y="626.13" width="12.16" height="7.72" fill="#3a1a41"/>
<rect x="445.83" y="632.84" width="12.16" height="3.36" fill="#381a40"/>
<rect x="456.99" y="515.31" width="12.16" height="4.36" fill="#e03143"/>
<rect x="456.99" y="518.67" width="12.16" height="11.07" fill="#cb1b4f"/>
<rect x="456.99" y="528.74" width="12.16" height="11.07" fill="#aa185a"/>
<rect x="456.99" y="538.82" width="12.16" height="11.07" fill="#7f1e5a"/>
<rect x="456.99" y="548.89" width="12.16" height="7.72" fill="#6d1f56"/>
<rect x="456.99" y="555.61" width="12.16" height="4.36" fill="#6b1f56"/>
<rect x="456.99" y="558.97" width="12.16" height="4.36" fill="#691f55"/>
<rect x="456.99" y="562.32" width="12.16" height="4.36" fill="#681f55"/>
<rect x="456.99" y="565.68" width="12.16" height="7.72" fill="#661f54"/>
<rect x="456.99" y="572.40" width="12.16" height="4.36" fill="#641f54"/>
<rect x="456.99" y="575.76" width="12.16" height="4.36" fill="#631f53"/>
<rect x="456.99" y="579.11" width="12.16" height="4.36" fill="#611f53"/>
<rect x="456.99" y="582.47" width="12.16" height="4.36" fill="#601f52"/>
<rect x="456.99" y="585.83" width="12.16" height="7.72" fill="#5e1f52"/>
<rect x="456.99" y="592.55" width="12.16" height="4.36" fill="#5c1e51"/>
<rect x="456.99" y="595.90" width="12.16" height="4.36" fill="#5b1e51"/>
<rect x="456.99" y="599.26" width="12.16" height="4.36" fill="#591e50"/>
<rect x="456.99" y="602.62" width="12.16" height="7.72" fill="#581e4f"/>
<rect x="456.99" y="609.34" width="12.16" height="4.36" fill="#561e4f"/>
<rect x="456.99" y="612.69" width="12.16" height="4.36" fill="#541e4e"/>
<rect x="456.99" y="616.05" width="12.16" height="4.36" fill="#531e4d"/>
<rect x="456.99" y="619.41" width="12.16" height="4.36" fill="#511e4d"/>
<rect x="456.99" y="622.77" width="12.16" height="7.72" fill="#501d4c"/>
<rect x="456.99" y="629.48" width="12.16" height="4.36" fill="#4e1d4b"/>
<rect x="456.99" y="632.84" width="12.16" height="3.36" fill="#4c1d4b"/>
<rect x="468.15" y="528.74" width="12.16" height="7.72" fill="#d2204c"/>
<rect x="468.15" y="535.46" width="12.16" height="11.07" fill="#b71657"/>
<rect x="468.15" y="545.53" width="12.16" height="11.07" fill="#981b5b"/>
<rect x="468.15" y="555.61" width="12.16" height="4.36" fill="#7f1e5a"/>
<rect x="468.15" y="558.97" width="12.16" height="4.36" fill="#7d1f5a"/>
<rect x="468.15" y="562.32" width="12.16" height="4.36" fill="#7b1f59"/>
<rect x="468.15" y="565.68" width="12.16" height="4.36" fill="#7a1f59"/>
<rect x="468.15" y="569.04" width="12.16" height="4.36" fill="#781f59"/>
<rect x="468.15" y="572.40" width="12.16" height="4.36" fill="#761f58"/>
<rect x="468.15" y="575.76" width="12.16" height="4.36" fill="#751f58"/>
<rect x="468.15" y="579.11" width="12.16" height="7.72" fill="#731f58"/>
<rect x="468.15" y="585.83" width="12.16" height="4.36" fill="#711f57"/>
<rect x="468.15" y="589.19" width="12.16" height="4.36" fill="#701f57"/>
<rect x="468.15" y="592.55" width="12.16" height="4.36" fill="#6e1f57"/>
<rect x="468.15" y="595.90" width="12.16" height="4.36" fill="#6d1f56"/>
<rect x="468.15" y="599.26" width="12.16" height="4.36" fill="#6b1f56"/>
<rect x="468.15" y="602.62" width="12.16" height="4.36" fill="#691f55"/>
<rect x="468.15" y="605.98" width="12.16" height="4.36" fill="#681f55"/>
<rect x="468.15" y="609.34" width="12.16" height="7.72" fill="#661f54"/>
<rect x="468.15" y="616.05" width="12.16" height="4.36" fill="#641f54"/>
<rect x="468.15" y="619.41" width="12.16" height="4.36" fill="#631f53"/>
<rect x="468.15" y="622.77" width="12.16" height="4.36" fill="#611f53"/>
<rect x="468.15" y="626.13" width="12.16" height="4.36" fill="#601f52"/>
<rect x="468.15" y="629.48" width="12.16" height="4.36" fill="#5e1f52"/>
<rect x="468.15" y="632.84" width="12.16" height="3.36" fill="#5c1e51"/>
<rect x="479.31" y="538.82" width="12.16" height="4.36" fill="#de2e44"/>
<rect x="479.31" y="542.18" width="12.16" height="14.43" fill="#bf1654"/>
<rect x="479.31" y="555.61" width="12.16" height="14.43" fill="#a11a5b"/>
<rect x="479.31" y="569.04" width="12.16" height="4.36" fill="#901d5b"/>
<rect x="479.31" y="572.40" width="12.16" height="4.36" fill="#8e1d5b"/>
<rect x="479.31" y="575.76" width="12.16" height="4.36" fill="#8c1d5b"/>
<rect x="479.31" y="579.11" width="12.16" height="4.36" fill="#8b1d5b"/>
<rect x="479.31" y="582.47" width="12.16" height="4.36" fill="#891e5b"/>
<rect x="479.31" y="585.83" width="12.16" height="4.36" fill="#861e5b"/>
<rect x="479.31" y="589.19" width="12.16" height="4.36" fill="#841e5a"/>
<rect x="479.31" y="592.55" width="12.16" height="4.36" fill="#821e5a"/>
<rect x="479.31" y="595.90" width="12.16" height="4.36" fill="#811e5a"/>
<rect x="479.31" y="599.26" width="12.16" height="4.36" fill="#7f1e5a"/>
<rect x="479.31" y="602.62" width="12.16" height="4.36" fill="#7d1f5a"/>
<rect x="479.31" y="605.98" width="12.16" height="4.36" fill="#7b1f59"/>
<rect x="479.31" y="609.34" width="12.16" height="4.36" fill="#7a1f59"/>
<rect x="479.31" y="612.69" width="12.16" height="4.36" fill="#781f59"/>
<rect x="479.31" y="616.05" width="12.16" height="4.36" fill="#761f58"/>
<rect x="479.31" y="619.41" width="12.16" height="4.36" fill="#751f58"/>
<rect x="479.31" y="622.77" width="12.16" height="4.36" fill="#731f58"/>
<rect x="479.31" y="626.13" width="12.16" height="4.36" fill="#711f57"/>
<rect x="479.31" y="629.48" width="12.16" height="4.36" fill="#6e1f57"/>
<rect x="479.31" y="632.84" width="12.16" height="3.36" fill="#6d1f56"/>
<rect x="490.47" y="548.89" width="12.16" height="4.36" fill="#e83f3f"/>
<rect x="490.47" y="552.25" width="12.16" height="11.07" fill="#d2204c"/>
<rect x="490.47" y="562.32" width="12.16" height="14.43" fill="#b71657"/>
<rect x="490.47" y="575.76" width="12.16" height="4.36" fill="#a11a5b"/>
<rect x="490.47" y="579.11" width="12.16" height="4.36" fill="#9f1a5b"/>
<rect x="490.47" y="582.47" width="12.16" height="4.36" fill="#9e1a5b"/>
<rect x="490.47" y="585.83" width="12.16" height="4.36" fill="#9a1b5b"/>
<rect x="490.47" y="589.19" width="12.16" height="4.36" fill="#981b5b"/>
<rect x="490.47" y="592.55" width="12.16" height="4.36" fill="#971c5b"/>
<rect x="490.47" y="595.90" width="12.16" height="4.36" fill="#951c5b"/>
<rect x="490.47" y="599.26" width="12.16" height="4.36" fill="#931c5b"/>
<rect x="490.47" y="602.62" width="12.16" height="4.36" fill="#901d5b"/>
<rect x="490.47" y="605.98" width="12.16" height="4.36" fill="#8e1d5b"/>
<rect x="490.47" y="609.34" width="12.16" height="4.36" fill="#8c1d5b"/>
<rect x="490.47" y="612.69" width="12.16" height="4.36" fill="#8b1d5b"/>
<rect x="490.47" y="616.05" width="12.16" height="4.36" fill="#891e5b"/>
<rect x="490.47" y="619.41" width="12.16" height="4.36" fill="#861e5b"/>
<rect x="490.47" y="622.77" width="12.16" height="4.36" fill="#841e5a"/>
<rect x="490.47" y="626.13" width="12.16" height="4.36" fill="#821e5a"/>
<rect x="490.47" y="629.48" width="12.16" height="4.36" fill="#811e5a"/>
<rect x="490.47" y="632.84" width="12.16" height="3.36" fill="#7f1e5a"/>
<rect x="501.63" y="558.97" width="12.16" height="4.36" fill="#ea443e"/>
<rect x="501.63" y="562.32" width="12.16" height="14.43" fill="#de2e44"/>
<rect x="501.63" y="575.76" width="12.16" height="14.43" fill="#c21753"/>
<rect x="501.63" y="589.19" width="12.16" height="4.36" fill="#b21758"/>
<rect x="501.63" y="592.55" width="12.16" height="4.36" fill="#b01759"/>
<rect x="501.63" y="595.90" width="12.16" height="4.36" fill="#ad1759"/>
<rect x="501.63" y="599.26" width="12.16" height="4.36" fill="#ab185a"/>
<rect x="501.63" y="602.62" width="12.16" height="4.36" fill="#aa185a"/>
<rect x="501.63" y="605.98" width="12.16" height="4.36" fill="#a6195a"/>
<rect x="501.63" y="609.34" width="12.16" height="4.36" fill="#a4195b"/>
<rect x="501.63" y="612.69" width="12.16" height="4.36" fill="#a3195b"/>
<rect x="501.63" y="616.05" width="12.16" height="4.36" fill="#9f1a5b"/>
<rect x="501.63" y="619.41" width="12.16" height="4.36" fill="#9e1a5b"/>
<rect x="501.63" y="622.77" width="12.16" height="4.36" fill="#9a1b5b"/>
<rect x="501.63" y="626.13" width="12.16" height="4.36" fill="#981b5b"/>
<rect x="501.63" y="629.48" width="12.16" height="4.36" fill="#971c5b"/>
<rect x="501.63" y="632.84" width="12.16" height="3.36" fill="#931c5b"/>
<rect x="512.79" y="569.04" width="12.16" height="7.72" fill="#ed4e3e"/>
<rect x="512.79" y="575.76" width="12.16" height="14.43" fill="#e33641"/>
<rect x="512.79" y="589.19" width="12.16" height="14.43" fill="#d5224a"/>
<rect x="512.79" y="602.62" width="12.16" height="4.36" fill="#c71951"/>
<rect x="512.79" y="605.98" width="12.16" height="4.36" fill="#c51852"/>
<rect x="512.79" y="609.34" width="12.16" height="4.36" fill="#c41753"/>
<rect x="512.79" y="612.69" width="12.16" height="4.36" fill="#c21753"/>
<rect x="512.79" y="616.05" width="12.16" height="4.36" fill="#bf1654"/>
<rect x="512.79" y="619.41" width="12.16" height="4.36" fill="#bd1655"/>
<rect x="512.79" y="622.77" width="12.16" height="4.36" fill="#bc1656"/>
<rect x="512.79" y="626.13" width="12.16" height="4.36" fill="#ba1656"/>
<rect x="512.79" y="629.48" width="12.16" height="4.36" fill="#b91657"/>
<rect x="512.79" y="632.84" width="12.16" height="3.36" fill="#b71657"/>
<rect x="523.96" y="585.83" width="12.16" height="4.36" fill="#ec4a3e"/>
<rect x="523.96" y="589.19" width="12.16" height="14.43" fill="#e83f3f"/>
<rect x="523.96" y="602.62" width="12.16" height="17.79" fill="#e33641"/>
<rect x="523.96" y="619.41" width="12.16" height="4.36" fill="#d5224a"/>
<rect x="523.96" y="622.77" width="12.16" height="4.36" fill="#d2204c"/>
<rect x="523.96" y="626.13" width="12.16" height="4.36" fill="#cf1e4d"/>
<rect x="523.96" y="629.48" width="12.16" height="4.36" fill="#cd1c4e"/>
<rect x="523.96" y="632.84" width="12.16" height="3.36" fill="#cb1b4f"/>
<rect x="535.12" y="589.19" width="12.16" height="4.36" fill="#f37450"/>
<rect x="535.12" y="592.55" width="12.16" height="14.43" fill="#ef5a41"/>
<rect x="535.12" y="605.98" width="12.16" height="17.79" fill="#e83f3f"/>
<rect x="535.12" y="622.77" width="12.16" height="4.36" fill="#e33641"/>
<rect x="535.12" y="626.13" width="12.16" height="4.36" fill="#e23442"/>
<rect x="535.12" y="629.48" width="12.16" height="4.36" fill="#e13342"/>
<rect x="535.12" y="632.84" width="12.16" height="3.36" fill="#e03143"/>
<rect x="546.28" y="595.90" width="12.16" height="4.36" fill="#f58a61"/>
<rect x="546.28" y="599.26" width="12.16" height="11.07" fill="#f37450"/>
<rect x="546.28" y="609.34" width="12.16" height="14.43" fill="#ef5a41"/>
<rect x="546.28" y="622.77" width="12.16" height="13.43" fill="#e83f3f"/>
<rect x="557.44" y="602.62" width="12.16" height="14.43" fill="#f6a178"/>
<rect x="557.44" y="616.05" width="12.16" height="11.07" fill="#f4865e"/>
<rect x="557.44" y="626.13" width="12.16" height="10.07" fill="#f26b49"/>
<rect x="568.60" y="605.98" width="12.16" height="4.36" fill="#f6a47c"/>
<rect x="568.60" y="609.34" width="12.16" height="4.36" fill="#f6a37a"/>
<rect x="568.60" y="612.69" width="12.16" height="4.36" fill="#f6a178"/>
<rect x="568.60" y="616.05" width="12.16" height="4.36" fill="#f69e75"/>
<rect x="568.60" y="619.41" width="12.16" height="4.36" fill="#f69c73"/>
<rect x="568.60" y="622.77" width="12.16" height="4.36" fill="#f4865e"/>
<rect x="568.60" y="626.13" width="12.16" height="4.36" fill="#f47f58"/>
<rect x="568.60" y="629.48" width="12.16" height="4.36" fill="#f37852"/>
<rect x="568.60" y="632.84" width="12.16" height="3.36" fill="#f26f4c"/>
<rect x="579.76" y="612.69" width="12.16" height="4.36" fill="#f8dcc7"/>
<rect x="579.76" y="616.05" width="12.16" height="7.72" fill="#f6bc99"/>
<rect x="579.76" y="622.77" width="12.16" height="7.72" fill="#f6a178"/>
<rect x="579.76" y="629.48" width="12.16" height="6.72" fill="#f4845d"/>
<rect x="590.92" y="619.41" width="12.16" height="4.36" fill="#f8dcc7"/>
<rect x="590.92" y="622.77" width="12.16" height="4.36" fill="#f8d1b8"/>
<rect x="590.92" y="626.13" width="12.16" height="4.36" fill="#f7c9aa"/>
<rect x="590.92" y="629.48" width="12.16" height="4.36" fill="#f6bf9d"/>
<rect x="590.92" y="632.84" width="12.16" height="3.36" fill="#f6b48f"/>
<rect x="602.08" y="622.77" width="12.16" height="4.36" fill="#faebdd"/>
<rect x="602.08" y="626.13" width="12.16" height="4.36" fill="#f9e2d0"/>
<rect x="602.08" y="629.48" width="12.16" height="4.36" fill="#f8d9c3"/>
<rect x="602.08" y="632.84" width="12.16" height="3.36" fill="#f7d0b5"/>
<rect x="613.24" y="629.48" width="12.16" height="4.36" fill="#faebdd"/>
<rect x="613.24" y="632.84" width="12.16" height="3.36" fill="#f9e3d2"/>
<polygon points="412.35,362.20 627.40,362.20 627.40,636.20 624.40,636.20 624.40,629.48 613.24,629.48 613.24,622.77 602.08,622.77 602.08,619.41 590.92,619.41 590.92,612.69 579.76,612.69 579.76,605.98 568.60,605.98 568.60,602.62 557.44,602.62 557.44,595.90 546.28,595.90 546.28,589.19 535.12,589.19 535.12,585.83 523.96,585.83 523.96,569.04 512.79,569.04 512.79,558.97 501.63,558.97 501.63,548.89 490.47,548.89 490.47,538.82 479.31,538.82 479.31,528.74 468.15,528.74 468.15,515.31 456.99,515.31 456.99,498.52 445.83,498.52 445.83,454.87 434.67,454.87 434.67,428.00 423.51,428.00 423.51,364.20 412.35,364.20" fill="#fff"/>
<rect x="412.35" y="364.20" width="212.05" height="272.00" fill="none" stroke="#1a1a1a" stroke-width="0.9"/>
<line x1="408.75" y1="634.52" x2="412.35" y2="634.52" stroke="#000" stroke-width="0.9"/>
<text x="405.15" y="638.97" font-size="15.8" text-anchor="end" textLength="9.79" lengthAdjust="spacingAndGlyphs">2</text>
<line x1="408.75" y1="600.94" x2="412.35" y2="600.94" stroke="#000" stroke-width="0.9"/>
<text x="405.15" y="605.39" font-size="15.8" text-anchor="end" textLength="19.59" lengthAdjust="spacingAndGlyphs">12</text>
<line x1="408.75" y1="567.36" x2="412.35" y2="567.36" stroke="#000" stroke-width="0.9"/>
<text x="405.15" y="571.81" font-size="15.8" text-anchor="end" textLength="19.59" lengthAdjust="spacingAndGlyphs">22</text>
<line x1="408.75" y1="533.78" x2="412.35" y2="533.78" stroke="#000" stroke-width="0.9"/>
<text x="405.15" y="538.23" font-size="15.8" text-anchor="end" textLength="19.59" lengthAdjust="spacingAndGlyphs">32</text>
<line x1="408.75" y1="500.20" x2="412.35" y2="500.20" stroke="#000" stroke-width="0.9"/>
<text x="405.15" y="504.65" font-size="15.8" text-anchor="end" textLength="19.59" lengthAdjust="spacingAndGlyphs">42</text>
<line x1="408.75" y1="466.62" x2="412.35" y2="466.62" stroke="#000" stroke-width="0.9"/>
<text x="405.15" y="471.07" font-size="15.8" text-anchor="end" textLength="19.59" lengthAdjust="spacingAndGlyphs">52</text>
<line x1="408.75" y1="433.04" x2="412.35" y2="433.04" stroke="#000" stroke-width="0.9"/>
<text x="405.15" y="437.49" font-size="15.8" text-anchor="end" textLength="19.59" lengthAdjust="spacingAndGlyphs">62</text>
<line x1="408.75" y1="399.46" x2="412.35" y2="399.46" stroke="#000" stroke-width="0.9"/>
<text x="405.15" y="403.91" font-size="15.8" text-anchor="end" textLength="19.59" lengthAdjust="spacingAndGlyphs">72</text>
<line x1="408.75" y1="365.88" x2="412.35" y2="365.88" stroke="#000" stroke-width="0.9"/>
<text x="405.15" y="370.33" font-size="15.8" text-anchor="end" textLength="19.59" lengthAdjust="spacingAndGlyphs">82</text>
<line x1="417.93" y1="636.20" x2="417.93" y2="639.80" stroke="#000" stroke-width="0.9"/>
<text x="417.93" y="656.05" font-size="15.8" text-anchor="middle" textLength="9.79" lengthAdjust="spacingAndGlyphs">1</text>
<line x1="440.25" y1="636.20" x2="440.25" y2="639.80" stroke="#000" stroke-width="0.9"/>
<text x="440.25" y="656.05" font-size="15.8" text-anchor="middle" textLength="9.79" lengthAdjust="spacingAndGlyphs">3</text>
<line x1="462.57" y1="636.20" x2="462.57" y2="639.80" stroke="#000" stroke-width="0.9"/>
<text x="462.57" y="656.05" font-size="15.8" text-anchor="middle" textLength="9.79" lengthAdjust="spacingAndGlyphs">5</text>
<line x1="484.89" y1="636.20" x2="484.89" y2="639.80" stroke="#000" stroke-width="0.9"/>
<text x="484.89" y="656.05" font-size="15.8" text-anchor="middle" textLength="9.79" lengthAdjust="spacingAndGlyphs">7</text>
<line x1="507.21" y1="636.20" x2="507.21" y2="639.80" stroke="#000" stroke-width="0.9"/>
<text x="507.21" y="656.05" font-size="15.8" text-anchor="middle" textLength="9.79" lengthAdjust="spacingAndGlyphs">9</text>
<line x1="529.54" y1="636.20" x2="529.54" y2="639.80" stroke="#000" stroke-width="0.9"/>
<text x="529.54" y="656.05" font-size="15.8" text-anchor="middle" textLength="19.59" lengthAdjust="spacingAndGlyphs">11</text>
<line x1="551.86" y1="636.20" x2="551.86" y2="639.80" stroke="#000" stroke-width="0.9"/>
<text x="551.86" y="656.05" font-size="15.8" text-anchor="middle" textLength="19.59" lengthAdjust="spacingAndGlyphs">13</text>
<line x1="574.18" y1="636.20" x2="574.18" y2="639.80" stroke="#000" stroke-width="0.9"/>
<text x="574.18" y="656.05" font-size="15.8" text-anchor="middle" textLength="19.59" lengthAdjust="spacingAndGlyphs">15</text>
<line x1="596.50" y1="636.20" x2="596.50" y2="639.80" stroke="#000" stroke-width="0.9"/>
<text x="596.50" y="656.05" font-size="15.8" text-anchor="middle" textLength="19.59" lengthAdjust="spacingAndGlyphs">17</text>
<line x1="618.82" y1="636.20" x2="618.82" y2="639.80" stroke="#000" stroke-width="0.9"/>
<text x="618.82" y="656.05" font-size="15.8" text-anchor="middle" textLength="19.59" lengthAdjust="spacingAndGlyphs">19</text>
<text x="518.67" y="676.00" font-size="20.0" text-anchor="middle" font-style="italic">k</text>
<text x="377.65" y="500.90" font-size="20.2" text-anchor="middle" font-style="italic" textLength="16.90" lengthAdjust="spacingAndGlyphs" transform="rotate(-90 377.65 500.90)">m</text>
<text x="370.50" y="364.40" font-size="19.8" font-weight="bold" stroke="#000" stroke-width="0.35">d</text>
<defs><linearGradient id="gd" x1="0" y1="0" x2="0" y2="1"><stop offset="0.0000" stop-color="#faebdd"/><stop offset="0.0312" stop-color="#f9dfcb"/><stop offset="0.0625" stop-color="#f8d3ba"/><stop offset="0.0938" stop-color="#f7c7a8"/><stop offset="0.1250" stop-color="#f6bb97"/><stop offset="0.1562" stop-color="#f6ae87"/><stop offset="0.1875" stop-color="#f6a178"/><stop offset="0.2188" stop-color="#f5946b"/><stop offset="0.2500" stop-color="#f4865e"/><stop offset="0.2812" stop-color="#f37852"/><stop offset="0.3125" stop-color="#f26948"/><stop offset="0.3438" stop-color="#ef5a41"/><stop offset="0.3750" stop-color="#ec4a3e"/><stop offset="0.4062" stop-color="#e63b40"/><stop offset="0.4375" stop-color="#de2e44"/><stop offset="0.4688" stop-color="#d5224a"/><stop offset="0.5000" stop-color="#cb1b4f"/><stop offset="0.5312" stop-color="#bf1654"/><stop offset="0.5625" stop-color="#b21758"/><stop offset="0.5938" stop-color="#a4195b"/><stop offset="0.6250" stop-color="#971c5b"/><stop offset="0.6562" stop-color="#891e5b"/><stop offset="0.6875" stop-color="#7b1f59"/><stop offset="0.7188" stop-color="#6e1f57"/><stop offset="0.7500" stop-color="#611f53"/><stop offset="0.7812" stop-color="#541e4e"/><stop offset="0.8125" stop-color="#481c48"/><stop offset="0.8438" stop-color="#3c1a42"/><stop offset="0.8750" stop-color="#30173a"/><stop offset="0.9062" stop-color="#241432"/><stop offset="0.9375" stop-color="#180f29"/><stop offset="0.9688" stop-color="#0d0a21"/><stop offset="1.0000" stop-color="#03051a"/></linearGradient></defs>
<rect x="637.80" y="625.20" width="12.90" height="2.00" fill="#707078"/>
<rect x="637.80" y="373.30" width="12.90" height="253.00" fill="url(#gd)"/>
<rect x="637.80" y="373.30" width="12.90" height="253.90" fill="none" stroke="#333" stroke-width="1.0"/>
<line x1="650.70" y1="596.73" x2="654.30" y2="596.73" stroke="#000" stroke-width="0.9"/>
<text x="657.70" y="603.52" font-size="15.8" textLength="29.38" lengthAdjust="spacingAndGlyphs">100</text>
<line x1="650.70" y1="558.50" x2="654.30" y2="558.50" stroke="#000" stroke-width="0.9"/>
<text x="657.70" y="565.30" font-size="15.8" textLength="29.38" lengthAdjust="spacingAndGlyphs">125</text>
<line x1="650.70" y1="520.27" x2="654.30" y2="520.27" stroke="#000" stroke-width="0.9"/>
<text x="657.70" y="527.07" font-size="15.8" textLength="29.38" lengthAdjust="spacingAndGlyphs">150</text>
<line x1="650.70" y1="482.05" x2="654.30" y2="482.05" stroke="#000" stroke-width="0.9"/>
<text x="657.70" y="488.85" font-size="15.8" textLength="29.38" lengthAdjust="spacingAndGlyphs">175</text>
<line x1="650.70" y1="443.83" x2="654.30" y2="443.83" stroke="#000" stroke-width="0.9"/>
<text x="657.70" y="450.63" font-size="15.8" textLength="29.38" lengthAdjust="spacingAndGlyphs">200</text>
<line x1="650.70" y1="405.60" x2="654.30" y2="405.60" stroke="#000" stroke-width="0.9"/>
<text x="657.70" y="412.40" font-size="15.8" textLength="29.38" lengthAdjust="spacingAndGlyphs">225</text>
<g transform="translate(632.40 363.40)">
<path d="M3.70,-14.30 L0.30,-6.05 L3.70,2.20" fill="none" stroke="#000" stroke-width="1.35" stroke-linejoin="miter"/>
<text x="6.60" y="0.00" font-size="18.6" font-style="italic" textLength="11.40" lengthAdjust="spacingAndGlyphs">R</text>
<text x="20.40" y="1.80" font-size="12.6" textLength="8.40" lengthAdjust="spacingAndGlyphs">∞</text>
<path d="M31.90,-14.30 L35.30,-6.05 L31.90,2.20" fill="none" stroke="#000" stroke-width="1.35" stroke-linejoin="miter"/>
</g>
<rect x="497.20" y="372.40" width="122.30" height="125.50" fill="#fff" stroke="#000" stroke-width="0.9"/>
<line x1="499.70" y1="497.90" x2="499.70" y2="501.50" stroke="#000" stroke-width="0.9"/>
<text x="499.70" y="516.50" font-size="15.8" text-anchor="middle" textLength="9.79" lengthAdjust="spacingAndGlyphs">0</text>
<line x1="569.60" y1="497.90" x2="569.60" y2="501.50" stroke="#000" stroke-width="0.9"/>
<text x="569.60" y="516.50" font-size="15.8" text-anchor="middle" textLength="19.59" lengthAdjust="spacingAndGlyphs">50</text>
<line x1="493.60" y1="478.50" x2="497.20" y2="478.50" stroke="#000" stroke-width="0.9"/>
<text x="490.20" y="484.39" font-size="15.8" text-anchor="end" textLength="29.38" lengthAdjust="spacingAndGlyphs">100</text>
<line x1="493.60" y1="443.43" x2="497.20" y2="443.43" stroke="#000" stroke-width="0.9"/>
<text x="490.20" y="449.33" font-size="15.8" text-anchor="end" textLength="29.38" lengthAdjust="spacingAndGlyphs">150</text>
<line x1="493.60" y1="408.37" x2="497.20" y2="408.37" stroke="#000" stroke-width="0.9"/>
<text x="490.20" y="414.26" font-size="15.8" text-anchor="end" textLength="29.38" lengthAdjust="spacingAndGlyphs">200</text>
<line x1="493.60" y1="373.30" x2="497.20" y2="373.30" stroke="#000" stroke-width="0.9"/>
<text x="490.20" y="379.20" font-size="15.8" text-anchor="end" textLength="29.38" lengthAdjust="spacingAndGlyphs">250</text>
<text x="558.35" y="535.40" font-size="18.8" text-anchor="middle" font-style="italic" textLength="15.20" lengthAdjust="spacingAndGlyphs">m</text>
<g transform="translate(454.10 434.95) rotate(-90) scale(0.91) translate(-17.80 0)">
<path d="M3.70,-14.30 L0.30,-6.05 L3.70,2.20" fill="none" stroke="#000" stroke-width="1.35" stroke-linejoin="miter"/>
<text x="6.60" y="0.00" font-size="18.6" font-style="italic" textLength="11.40" lengthAdjust="spacingAndGlyphs">R</text>
<text x="20.40" y="1.80" font-size="12.6" textLength="8.40" lengthAdjust="spacingAndGlyphs">∞</text>
<path d="M31.90,-14.30 L35.30,-6.05 L31.90,2.20" fill="none" stroke="#000" stroke-width="1.35" stroke-linejoin="miter"/>
</g>
<circle cx="502.50" cy="492.52" r="3.3" fill="#1f77b4"/>
<circle cx="503.89" cy="492.48" r="3.3" fill="#1f77b4"/>
<circle cx="505.29" cy="492.43" r="3.3" fill="#1f77b4"/>
<circle cx="506.69" cy="492.39" r="3.3" fill="#1f77b4"/>
<circle cx="508.09" cy="492.35" r="3.3" fill="#1f77b4"/>
<circle cx="509.49" cy="492.30" r="3.3" fill="#1f77b4"/>
<circle cx="510.88" cy="492.26" r="3.3" fill="#1f77b4"/>
<circle cx="512.28" cy="492.21" r="3.3" fill="#1f77b4"/>
<circle cx="513.68" cy="492.17" r="3.3" fill="#1f77b4"/>
<circle cx="515.08" cy="492.14" r="3.3" fill="#1f77b4"/>
<circle cx="516.48" cy="492.10" r="3.3" fill="#1f77b4"/>
<circle cx="517.87" cy="492.07" r="3.3" fill="#1f77b4"/>
<circle cx="519.27" cy="492.03" r="3.3" fill="#1f77b4"/>
<circle cx="520.67" cy="492.00" r="3.3" fill="#1f77b4"/>
<circle cx="522.07" cy="491.96" r="3.3" fill="#1f77b4"/>
<circle cx="523.47" cy="491.92" r="3.3" fill="#1f77b4"/>
<circle cx="524.86" cy="491.89" r="3.3" fill="#1f77b4"/>
<circle cx="526.26" cy="491.85" r="3.3" fill="#1f77b4"/>
<circle cx="527.66" cy="491.82" r="3.3" fill="#1f77b4"/>
<circle cx="529.06" cy="491.78" r="3.3" fill="#1f77b4"/>
<circle cx="530.46" cy="491.75" r="3.3" fill="#1f77b4"/>
<circle cx="531.85" cy="491.71" r="3.3" fill="#1f77b4"/>
<circle cx="533.25" cy="491.68" r="3.3" fill="#1f77b4"/>
<circle cx="534.65" cy="491.64" r="3.3" fill="#1f77b4"/>
<circle cx="536.05" cy="491.61" r="3.3" fill="#1f77b4"/>
<circle cx="537.45" cy="491.57" r="3.3" fill="#1f77b4"/>
<circle cx="538.84" cy="491.54" r="3.3" fill="#1f77b4"/>
<circle cx="540.24" cy="491.50" r="3.3" fill="#1f77b4"/>
<circle cx="541.64" cy="491.47" r="3.3" fill="#1f77b4"/>
<circle cx="543.04" cy="491.43" r="3.3" fill="#1f77b4"/>
<circle cx="544.44" cy="491.40" r="3.3" fill="#1f77b4"/>
<circle cx="545.83" cy="491.36" r="3.3" fill="#1f77b4"/>
<circle cx="547.23" cy="491.33" r="3.3" fill="#1f77b4"/>
<circle cx="548.63" cy="491.29" r="3.3" fill="#1f77b4"/>
<circle cx="550.03" cy="491.26" r="3.3" fill="#1f77b4"/>
<circle cx="551.43" cy="491.22" r="3.3" fill="#1f77b4"/>
<circle cx="552.82" cy="491.19" r="3.3" fill="#1f77b4"/>
<circle cx="554.22" cy="491.15" r="3.3" fill="#1f77b4"/>
<circle cx="555.62" cy="491.12" r="3.3" fill="#1f77b4"/>
<circle cx="557.02" cy="490.88" r="3.3" fill="#1f77b4"/>
<circle cx="558.42" cy="490.65" r="3.3" fill="#1f77b4"/>
<circle cx="559.81" cy="490.42" r="3.3" fill="#1f77b4"/>
<circle cx="561.21" cy="489.72" r="3.3" fill="#1f77b4"/>
<circle cx="562.61" cy="489.01" r="3.3" fill="#1f77b4"/>
<circle cx="564.01" cy="488.31" r="3.3" fill="#1f77b4"/>
<circle cx="565.41" cy="487.61" r="3.3" fill="#1f77b4"/>
<circle cx="566.80" cy="486.91" r="3.3" fill="#1f77b4"/>
<circle cx="568.20" cy="486.10" r="3.3" fill="#1f77b4"/>
<circle cx="569.60" cy="485.30" r="3.3" fill="#1f77b4"/>
<circle cx="571.00" cy="484.49" r="3.3" fill="#1f77b4"/>
<circle cx="572.40" cy="483.68" r="3.3" fill="#1f77b4"/>
<circle cx="573.79" cy="482.91" r="3.3" fill="#1f77b4"/>
<circle cx="575.19" cy="482.14" r="3.3" fill="#1f77b4"/>
<circle cx="576.59" cy="481.37" r="3.3" fill="#1f77b4"/>
<circle cx="577.99" cy="480.60" r="3.3" fill="#1f77b4"/>
<circle cx="579.39" cy="479.46" r="3.3" fill="#1f77b4"/>
<circle cx="580.78" cy="478.32" r="3.3" fill="#1f77b4"/>
<circle cx="582.18" cy="477.18" r="3.3" fill="#1f77b4"/>
<circle cx="583.58" cy="476.04" r="3.3" fill="#1f77b4"/>
<circle cx="584.98" cy="472.88" r="3.3" fill="#1f77b4"/>
<circle cx="586.38" cy="469.66" r="3.3" fill="#1f77b4"/>
<circle cx="587.77" cy="467.98" r="3.3" fill="#1f77b4"/>
<circle cx="589.17" cy="464.47" r="3.3" fill="#1f77b4"/>
<circle cx="590.57" cy="460.96" r="3.3" fill="#1f77b4"/>
<circle cx="591.97" cy="453.95" r="3.3" fill="#1f77b4"/>
<circle cx="593.37" cy="452.55" r="3.3" fill="#1f77b4"/>
<circle cx="594.76" cy="453.95" r="3.3" fill="#1f77b4"/>
<circle cx="596.16" cy="455.35" r="3.3" fill="#1f77b4"/>
<circle cx="597.56" cy="454.30" r="3.3" fill="#1f77b4"/>
<circle cx="598.96" cy="446.94" r="3.3" fill="#1f77b4"/>
<circle cx="600.36" cy="445.53" r="3.3" fill="#1f77b4"/>
<circle cx="601.75" cy="444.83" r="3.3" fill="#1f77b4"/>
<circle cx="603.15" cy="444.13" r="3.3" fill="#1f77b4"/>
<circle cx="604.55" cy="443.43" r="3.3" fill="#1f77b4"/>
<circle cx="605.95" cy="442.03" r="3.3" fill="#1f77b4"/>
<circle cx="607.35" cy="439.92" r="3.3" fill="#1f77b4"/>
<circle cx="608.74" cy="437.82" r="3.3" fill="#1f77b4"/>
<circle cx="610.14" cy="432.91" r="3.3" fill="#1f77b4"/>
<circle cx="611.54" cy="431.51" r="3.3" fill="#1f77b4"/>
<circle cx="612.94" cy="408.37" r="3.3" fill="#1f77b4"/>
<circle cx="614.34" cy="407.66" r="3.3" fill="#1f77b4"/>
<path d="M499.45,461.42L505.55,467.52M499.45,467.52L505.55,461.42" stroke="#ff7f0e" stroke-width="1.0" fill="none"/>
<path d="M500.84,461.42L506.94,467.52M500.84,467.52L506.94,461.42" stroke="#ff7f0e" stroke-width="1.0" fill="none"/>
<path d="M502.24,461.42L508.34,467.52M502.24,467.52L508.34,461.42" stroke="#ff7f0e" stroke-width="1.0" fill="none"/>
<path d="M503.64,461.42L509.74,467.52M503.64,467.52L509.74,461.42" stroke="#ff7f0e" stroke-width="1.0" fill="none"/>
<path d="M505.04,461.14L511.14,467.24M505.04,467.24L511.14,461.14" stroke="#ff7f0e" stroke-width="1.0" fill="none"/>
<path d="M506.44,460.86L512.54,466.96M506.44,466.96L512.54,460.86" stroke="#ff7f0e" stroke-width="1.0" fill="none"/>
<path d="M507.83,460.58L513.93,466.68M507.83,466.68L513.93,460.58" stroke="#ff7f0e" stroke-width="1.0" fill="none"/>
<path d="M509.23,460.30L515.33,466.40M509.23,466.40L515.33,460.30" stroke="#ff7f0e" stroke-width="1.0" fill="none"/>
<path d="M510.63,460.02L516.73,466.12M510.63,466.12L516.73,460.02" stroke="#ff7f0e" stroke-width="1.0" fill="none"/>
<path d="M512.03,459.74L518.13,465.84M512.03,465.84L518.13,459.74" stroke="#ff7f0e" stroke-width="1.0" fill="none"/>
<path d="M513.43,459.46L519.53,465.56M513.43,465.56L519.53,459.46" stroke="#ff7f0e" stroke-width="1.0" fill="none"/>
<path d="M514.82,459.17L520.92,465.27M514.82,465.27L520.92,459.17" stroke="#ff7f0e" stroke-width="1.0" fill="none"/>
<path d="M516.22,458.89L522.32,464.99M516.22,464.99L522.32,458.89" stroke="#ff7f0e" stroke-width="1.0" fill="none"/>
<path d="M517.62,458.61L523.72,464.71M517.62,464.71L523.72,458.61" stroke="#ff7f0e" stroke-width="1.0" fill="none"/>
<path d="M519.02,458.33L525.12,464.43M519.02,464.43L525.12,458.33" stroke="#ff7f0e" stroke-width="1.0" fill="none"/>
<path d="M520.42,458.05L526.52,464.15M520.42,464.15L526.52,458.05" stroke="#ff7f0e" stroke-width="1.0" fill="none"/>
<path d="M521.81,457.77L527.91,463.87M521.81,463.87L527.91,457.77" stroke="#ff7f0e" stroke-width="1.0" fill="none"/>
<path d="M523.21,457.49L529.31,463.59M523.21,463.59L529.31,457.49" stroke="#ff7f0e" stroke-width="1.0" fill="none"/>
<path d="M524.61,457.21L530.71,463.31M524.61,463.31L530.71,457.21" stroke="#ff7f0e" stroke-width="1.0" fill="none"/>
<path d="M526.01,456.86L532.11,462.96M526.01,462.96L532.11,456.86" stroke="#ff7f0e" stroke-width="1.0" fill="none"/>
<path d="M527.41,456.51L533.51,462.61M527.41,462.61L533.51,456.51" stroke="#ff7f0e" stroke-width="1.0" fill="none"/>
<path d="M528.80,455.46L534.90,461.56M528.80,461.56L534.90,455.46" stroke="#ff7f0e" stroke-width="1.0" fill="none"/>
<path d="M530.20,454.41L536.30,460.51M530.20,460.51L536.30,454.41" stroke="#ff7f0e" stroke-width="1.0" fill="none"/>
<path d="M531.60,452.65L537.70,458.75M531.60,458.75L537.70,452.65" stroke="#ff7f0e" stroke-width="1.0" fill="none"/>
<path d="M533.00,450.90L539.10,457.00M533.00,457.00L539.10,450.90" stroke="#ff7f0e" stroke-width="1.0" fill="none"/>
<path d="M534.40,449.50L540.50,455.60M534.40,455.60L540.50,449.50" stroke="#ff7f0e" stroke-width="1.0" fill="none"/>
<path d="M535.79,447.39L541.89,453.49M535.79,453.49L541.89,447.39" stroke="#ff7f0e" stroke-width="1.0" fill="none"/>
<path d="M537.19,441.78L543.29,447.88M537.19,447.88L543.29,441.78" stroke="#ff7f0e" stroke-width="1.0" fill="none"/>
<path d="M538.59,438.98L544.69,445.08M538.59,445.08L544.69,438.98" stroke="#ff7f0e" stroke-width="1.0" fill="none"/>
<path d="M539.99,434.77L546.09,440.87M539.99,440.87L546.09,434.77" stroke="#ff7f0e" stroke-width="1.0" fill="none"/>
<path d="M541.39,433.37L547.49,439.47M541.39,439.47L547.49,433.37" stroke="#ff7f0e" stroke-width="1.0" fill="none"/>
<path d="M542.78,431.26L548.88,437.36M542.78,437.36L548.88,431.26" stroke="#ff7f0e" stroke-width="1.0" fill="none"/>
<path d="M502.50,425.10L506.10,431.76L498.90,431.76Z" fill="#2ca02c"/>
<path d="M503.89,423.70L507.49,430.36L500.29,430.36Z" fill="#2ca02c"/>
<path d="M505.29,421.60L508.89,428.26L501.69,428.26Z" fill="#2ca02c"/>
<path d="M506.69,420.19L510.29,426.85L503.09,426.85Z" fill="#2ca02c"/>
<path d="M508.09,418.79L511.69,425.45L504.49,425.45Z" fill="#2ca02c"/>
<path d="M509.49,416.69L513.09,423.35L505.89,423.35Z" fill="#2ca02c"/>
<path d="M510.88,415.28L514.48,421.94L507.28,421.94Z" fill="#2ca02c"/>
<path d="M512.28,413.88L515.88,420.54L508.68,420.54Z" fill="#2ca02c"/>
<path d="M513.68,412.48L517.28,419.14L510.08,419.14Z" fill="#2ca02c"/>
<path d="M515.08,411.08L518.68,417.74L511.48,417.74Z" fill="#2ca02c"/>
<path d="M516.48,410.38L520.08,417.04L512.88,417.04Z" fill="#2ca02c"/>
<path d="M517.87,408.97L521.47,415.63L514.27,415.63Z" fill="#2ca02c"/>
<path d="M519.27,408.27L522.87,414.93L515.67,414.93Z" fill="#2ca02c"/>
<path d="M520.67,397.75L524.27,404.41L517.07,404.41Z" fill="#2ca02c"/>
<rect x="499.30" y="382.02" width="6.40" height="6.40" fill="#d62728"/>
<rect x="500.69" y="381.32" width="6.40" height="6.40" fill="#d62728"/>
<rect x="502.09" y="374.31" width="6.40" height="6.40" fill="#d62728"/>
<rect x="503.49" y="373.61" width="6.40" height="6.40" fill="#d62728"/>
<rect x="526.70" y="377.00" width="64.10" height="57.20" rx="2.2" ry="2.2" fill="#fff" fill-opacity="0.85" stroke="#d6d6d6" stroke-width="0.9"/>
<circle cx="540.50" cy="384.30" r="3.3" fill="#1f77b4"/>
<text x="556.70" y="386.82" font-size="9.522" font-style="italic" textLength="5.22" lengthAdjust="spacingAndGlyphs">k</text>
<rect x="564.90" y="382.60" width="6.18" height="0.95" fill="#000"/>
<rect x="564.90" y="384.69" width="6.18" height="0.95" fill="#000"/>
<text x="573.78" y="386.82" font-size="9.222" textLength="5.74" lengthAdjust="spacingAndGlyphs">1</text>
<path d="M537.45,395.25L543.55,401.35M537.45,401.35L543.55,395.25" stroke="#ff7f0e" stroke-width="1.0" fill="none"/>
<text x="556.70" y="400.82" font-size="9.522" font-style="italic" textLength="5.22" lengthAdjust="spacingAndGlyphs">k</text>
<rect x="564.90" y="396.60" width="6.18" height="0.95" fill="#000"/>
<rect x="564.90" y="398.69" width="6.18" height="0.95" fill="#000"/>
<text x="573.78" y="400.82" font-size="9.222" textLength="5.74" lengthAdjust="spacingAndGlyphs">6</text>
<path d="M540.50,408.40L544.10,415.06L536.90,415.06Z" fill="#2ca02c"/>
<text x="556.70" y="414.52" font-size="9.522" font-style="italic" textLength="5.22" lengthAdjust="spacingAndGlyphs">k</text>
<rect x="564.90" y="410.30" width="6.18" height="0.95" fill="#000"/>
<rect x="564.90" y="412.39" width="6.18" height="0.95" fill="#000"/>
<text x="573.78" y="414.52" font-size="9.222" textLength="11.48" lengthAdjust="spacingAndGlyphs">12</text>
<rect x="537.30" y="422.40" width="6.40" height="6.40" fill="#d62728"/>
<text x="556.70" y="428.12" font-size="9.522" font-style="italic" textLength="5.22" lengthAdjust="spacingAndGlyphs">k</text>
<rect x="564.90" y="423.90" width="6.18" height="0.95" fill="#000"/>
<rect x="564.90" y="425.99" width="6.18" height="0.95" fill="#000"/>
<text x="573.78" y="428.12" font-size="9.222" textLength="11.48" lengthAdjust="spacingAndGlyphs">18</text>
</svg></body></html>
